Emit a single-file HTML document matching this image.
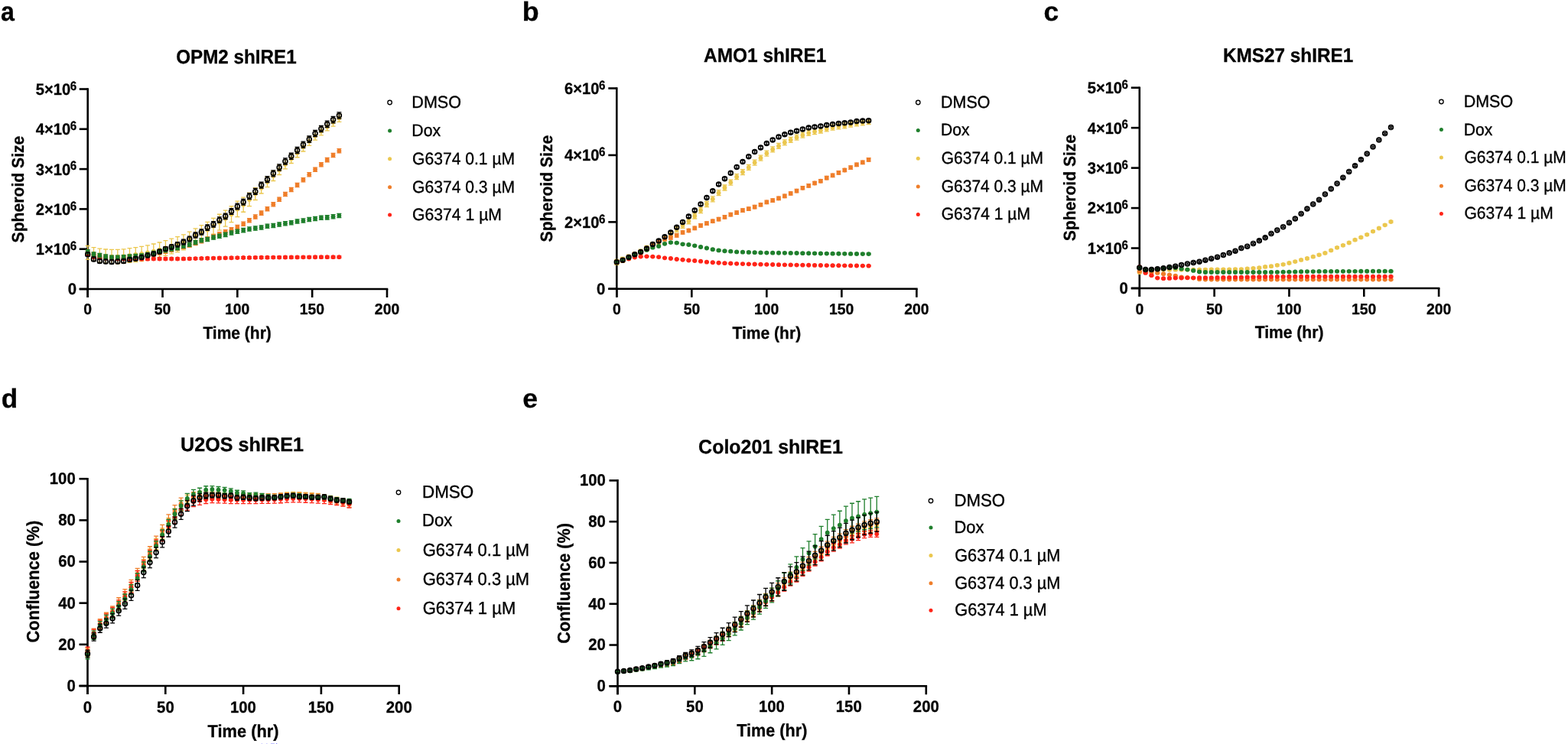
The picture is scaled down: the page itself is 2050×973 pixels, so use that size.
<!DOCTYPE html>
<html><head><meta charset="utf-8"><title>Figure</title>
<style>html,body{margin:0;padding:0;background:#fff;}body{width:2050px;height:973px;overflow:hidden;}svg{display:block;}text{font-family:"Liberation Sans", Arial, Helvetica, sans-serif;stroke:#000;stroke-width:0.3px;text-rendering:geometricPrecision;}text.r{stroke-width:0.35px;}</style>
</head><body>
<svg width="2050" height="973" viewBox="0 0 2050 973">
<rect width="2050" height="973" fill="#fff"/>
<text transform="translate(0.94,27.3) scale(0.9175,1)" font-size="35" font-weight="700" fill="#000">a</text>
<text transform="translate(682.67,27.3) scale(1.0240,1)" font-size="35" font-weight="700" fill="#000">b</text>
<text transform="translate(1364.58,26.7) scale(1.0139,1)" font-size="35" font-weight="700" fill="#000">c</text>
<text transform="translate(1.8,533.2) scale(1.0014,1)" font-size="35" font-weight="700" fill="#000">d</text>
<text transform="translate(683.27,533.3) scale(1.0185,1)" font-size="35" font-weight="700" fill="#000">e</text>
<text transform="translate(230.13,82.75) scale(0.9430,1)" font-size="25.7" font-weight="700" fill="#000">OPM2 shIRE1</text>
<text transform="translate(919.99,81.4) scale(0.9526,1)" font-size="25.7" font-weight="700" fill="#000">AMO1 shIRE1</text>
<text transform="translate(1598.96,80.8) scale(0.9469,1)" font-size="25.7" font-weight="700" fill="#000">KMS27 shIRE1</text>
<text transform="translate(236.09,590.45) scale(0.9798,1)" font-size="25.7" font-weight="700" fill="#000">U2OS shIRE1</text>
<text transform="translate(913.1,593.4) scale(0.9720,1)" font-size="25.7" font-weight="700" fill="#000">Colo201 shIRE1</text>
<text transform="translate(265.44,443.1) scale(0.9246,1)" font-size="22.7" font-weight="700" fill="#000">Time (hr)</text>
<text transform="translate(957.54,443.2) scale(0.9349,1)" font-size="22.5" font-weight="700" fill="#000">Time (hr)</text>
<text transform="translate(1640.64,442.2) scale(0.9371,1)" font-size="22.5" font-weight="700" fill="#000">Time (hr)</text>
<text transform="translate(271.53,964.1) scale(0.9498,1)" font-size="23" font-weight="700" fill="#000">Time (hr)</text>
<text transform="translate(963.23,963.1) scale(0.9364,1)" font-size="23.1" font-weight="700" fill="#000">Time (hr)</text>
<text transform="translate(31.2,317.43) rotate(-90) scale(0.9611,1)" font-size="22" font-weight="700">Spheroid Size</text>
<text transform="translate(721.8,316.43) rotate(-90) scale(0.9604,1)" font-size="22" font-weight="700">Spheroid Size</text>
<text transform="translate(1406.3,315.23) rotate(-90) scale(0.9577,1)" font-size="22" font-weight="700">Spheroid Size</text>
<text transform="translate(50.8,840.48) rotate(-90) scale(0.9540,1)" font-size="23" font-weight="700">Confluence (%)</text>
<text transform="translate(745.3,841.77) rotate(-90) scale(0.9431,1)" font-size="23" font-weight="700">Confluence (%)</text>
<line x1="114.7" y1="115.2" x2="114.7" y2="389" stroke="#000" stroke-width="2.6" stroke-linecap="butt"/>
<line x1="103.7" y1="378" x2="507.3" y2="378" stroke="#000" stroke-width="2.6" stroke-linecap="butt"/>
<line x1="103.7" y1="378" x2="114.7" y2="378" stroke="#000" stroke-width="2.6" stroke-linecap="butt"/>
<line x1="103.7" y1="325.7" x2="114.7" y2="325.7" stroke="#000" stroke-width="2.6" stroke-linecap="butt"/>
<line x1="103.7" y1="273.4" x2="114.7" y2="273.4" stroke="#000" stroke-width="2.6" stroke-linecap="butt"/>
<line x1="103.7" y1="221.1" x2="114.7" y2="221.1" stroke="#000" stroke-width="2.6" stroke-linecap="butt"/>
<line x1="103.7" y1="168.8" x2="114.7" y2="168.8" stroke="#000" stroke-width="2.6" stroke-linecap="butt"/>
<line x1="103.7" y1="116.5" x2="114.7" y2="116.5" stroke="#000" stroke-width="2.6" stroke-linecap="butt"/>
<line x1="114.7" y1="378" x2="114.7" y2="389" stroke="#000" stroke-width="2.6" stroke-linecap="butt"/>
<text transform="translate(109.32,411.3) scale(0.9700,1)" font-size="20" font-weight="700">0</text>
<line x1="212.53" y1="378" x2="212.53" y2="389" stroke="#000" stroke-width="2.6" stroke-linecap="butt"/>
<text transform="translate(201.83,411.3) scale(0.9700,1)" font-size="20" font-weight="700">50</text>
<line x1="310.35" y1="378" x2="310.35" y2="389" stroke="#000" stroke-width="2.6" stroke-linecap="butt"/>
<text transform="translate(293.96,411.3) scale(0.9700,1)" font-size="20" font-weight="700">100</text>
<line x1="408.18" y1="378" x2="408.18" y2="389" stroke="#000" stroke-width="2.6" stroke-linecap="butt"/>
<text transform="translate(391.78,411.3) scale(0.9700,1)" font-size="20" font-weight="700">150</text>
<line x1="506" y1="378" x2="506" y2="389" stroke="#000" stroke-width="2.6" stroke-linecap="butt"/>
<text transform="translate(489.87,411.3) scale(0.9700,1)" font-size="20" font-weight="700">200</text>
<text transform="translate(91.71,327) scale(0.9200,1)" font-size="16.5" font-weight="700">6</text>
<text transform="translate(46.87,333.1) scale(0.9600,1)" font-size="21" font-weight="700">1×10</text>
<text transform="translate(91.71,274.7) scale(0.9200,1)" font-size="16.5" font-weight="700">6</text>
<text transform="translate(46.87,280.8) scale(0.9600,1)" font-size="21" font-weight="700">2×10</text>
<text transform="translate(91.71,222.4) scale(0.9200,1)" font-size="16.5" font-weight="700">6</text>
<text transform="translate(46.87,228.5) scale(0.9600,1)" font-size="21" font-weight="700">3×10</text>
<text transform="translate(91.71,170.1) scale(0.9200,1)" font-size="16.5" font-weight="700">6</text>
<text transform="translate(46.87,176.2) scale(0.9600,1)" font-size="21" font-weight="700">4×10</text>
<text transform="translate(91.71,117.8) scale(0.9200,1)" font-size="16.5" font-weight="700">6</text>
<text transform="translate(46.87,123.9) scale(0.9600,1)" font-size="21" font-weight="700">5×10</text>
<text transform="translate(88.81,385.2) scale(0.9700,1)" font-size="21" font-weight="700">0</text>
<line x1="806.3" y1="114.2" x2="806.3" y2="388.8" stroke="#000" stroke-width="2.6" stroke-linecap="butt"/>
<line x1="795.3" y1="377.8" x2="1199.7" y2="377.8" stroke="#000" stroke-width="2.6" stroke-linecap="butt"/>
<line x1="795.3" y1="377.8" x2="806.3" y2="377.8" stroke="#000" stroke-width="2.6" stroke-linecap="butt"/>
<line x1="795.3" y1="290.37" x2="806.3" y2="290.37" stroke="#000" stroke-width="2.6" stroke-linecap="butt"/>
<line x1="795.3" y1="202.93" x2="806.3" y2="202.93" stroke="#000" stroke-width="2.6" stroke-linecap="butt"/>
<line x1="795.3" y1="115.5" x2="806.3" y2="115.5" stroke="#000" stroke-width="2.6" stroke-linecap="butt"/>
<line x1="806.3" y1="377.8" x2="806.3" y2="388.8" stroke="#000" stroke-width="2.6" stroke-linecap="butt"/>
<text transform="translate(800.92,411.3) scale(0.9700,1)" font-size="20" font-weight="700">0</text>
<line x1="904.33" y1="377.8" x2="904.33" y2="388.8" stroke="#000" stroke-width="2.6" stroke-linecap="butt"/>
<text transform="translate(893.63,411.3) scale(0.9700,1)" font-size="20" font-weight="700">50</text>
<line x1="1002.35" y1="377.8" x2="1002.35" y2="388.8" stroke="#000" stroke-width="2.6" stroke-linecap="butt"/>
<text transform="translate(985.96,411.3) scale(0.9700,1)" font-size="20" font-weight="700">100</text>
<line x1="1100.38" y1="377.8" x2="1100.38" y2="388.8" stroke="#000" stroke-width="2.6" stroke-linecap="butt"/>
<text transform="translate(1083.98,411.3) scale(0.9700,1)" font-size="20" font-weight="700">150</text>
<line x1="1198.4" y1="377.8" x2="1198.4" y2="388.8" stroke="#000" stroke-width="2.6" stroke-linecap="butt"/>
<text transform="translate(1182.27,411.3) scale(0.9700,1)" font-size="20" font-weight="700">200</text>
<text transform="translate(782.91,291.67) scale(0.9200,1)" font-size="16.5" font-weight="700">6</text>
<text transform="translate(738.07,297.77) scale(0.9600,1)" font-size="21" font-weight="700">2×10</text>
<text transform="translate(782.91,204.23) scale(0.9200,1)" font-size="16.5" font-weight="700">6</text>
<text transform="translate(738.07,210.33) scale(0.9600,1)" font-size="21" font-weight="700">4×10</text>
<text transform="translate(782.91,116.8) scale(0.9200,1)" font-size="16.5" font-weight="700">6</text>
<text transform="translate(738.07,122.9) scale(0.9600,1)" font-size="21" font-weight="700">6×10</text>
<text transform="translate(780.01,385) scale(0.9700,1)" font-size="21" font-weight="700">0</text>
<line x1="1489.8" y1="113.4" x2="1489.8" y2="388" stroke="#000" stroke-width="2.6" stroke-linecap="butt"/>
<line x1="1478.8" y1="377" x2="1882.4" y2="377" stroke="#000" stroke-width="2.6" stroke-linecap="butt"/>
<line x1="1478.8" y1="377" x2="1489.8" y2="377" stroke="#000" stroke-width="2.6" stroke-linecap="butt"/>
<line x1="1478.8" y1="324.54" x2="1489.8" y2="324.54" stroke="#000" stroke-width="2.6" stroke-linecap="butt"/>
<line x1="1478.8" y1="272.08" x2="1489.8" y2="272.08" stroke="#000" stroke-width="2.6" stroke-linecap="butt"/>
<line x1="1478.8" y1="219.62" x2="1489.8" y2="219.62" stroke="#000" stroke-width="2.6" stroke-linecap="butt"/>
<line x1="1478.8" y1="167.16" x2="1489.8" y2="167.16" stroke="#000" stroke-width="2.6" stroke-linecap="butt"/>
<line x1="1478.8" y1="114.7" x2="1489.8" y2="114.7" stroke="#000" stroke-width="2.6" stroke-linecap="butt"/>
<line x1="1489.8" y1="377" x2="1489.8" y2="388" stroke="#000" stroke-width="2.6" stroke-linecap="butt"/>
<text transform="translate(1484.42,410.7) scale(0.9700,1)" font-size="20" font-weight="700">0</text>
<line x1="1587.62" y1="377" x2="1587.62" y2="388" stroke="#000" stroke-width="2.6" stroke-linecap="butt"/>
<text transform="translate(1576.93,410.7) scale(0.9700,1)" font-size="20" font-weight="700">50</text>
<line x1="1685.45" y1="377" x2="1685.45" y2="388" stroke="#000" stroke-width="2.6" stroke-linecap="butt"/>
<text transform="translate(1669.06,410.7) scale(0.9700,1)" font-size="20" font-weight="700">100</text>
<line x1="1783.27" y1="377" x2="1783.27" y2="388" stroke="#000" stroke-width="2.6" stroke-linecap="butt"/>
<text transform="translate(1766.88,410.7) scale(0.9700,1)" font-size="20" font-weight="700">150</text>
<line x1="1881.1" y1="377" x2="1881.1" y2="388" stroke="#000" stroke-width="2.6" stroke-linecap="butt"/>
<text transform="translate(1864.97,410.7) scale(0.9700,1)" font-size="20" font-weight="700">200</text>
<text transform="translate(1466.51,325.84) scale(0.9200,1)" font-size="16.5" font-weight="700">6</text>
<text transform="translate(1421.67,331.94) scale(0.9600,1)" font-size="21" font-weight="700">1×10</text>
<text transform="translate(1466.51,273.38) scale(0.9200,1)" font-size="16.5" font-weight="700">6</text>
<text transform="translate(1421.67,279.48) scale(0.9600,1)" font-size="21" font-weight="700">2×10</text>
<text transform="translate(1466.51,220.92) scale(0.9200,1)" font-size="16.5" font-weight="700">6</text>
<text transform="translate(1421.67,227.02) scale(0.9600,1)" font-size="21" font-weight="700">3×10</text>
<text transform="translate(1466.51,168.46) scale(0.9200,1)" font-size="16.5" font-weight="700">6</text>
<text transform="translate(1421.67,174.56) scale(0.9600,1)" font-size="21" font-weight="700">4×10</text>
<text transform="translate(1466.51,116) scale(0.9200,1)" font-size="16.5" font-weight="700">6</text>
<text transform="translate(1421.67,122.1) scale(0.9600,1)" font-size="21" font-weight="700">5×10</text>
<text transform="translate(1463.61,384.2) scale(0.9700,1)" font-size="21" font-weight="700">0</text>
<line x1="114.5" y1="624.9" x2="114.5" y2="908" stroke="#000" stroke-width="2.6" stroke-linecap="butt"/>
<line x1="103.5" y1="897" x2="523" y2="897" stroke="#000" stroke-width="2.6" stroke-linecap="butt"/>
<line x1="103.5" y1="897" x2="114.5" y2="897" stroke="#000" stroke-width="2.6" stroke-linecap="butt"/>
<line x1="103.5" y1="842.84" x2="114.5" y2="842.84" stroke="#000" stroke-width="2.6" stroke-linecap="butt"/>
<line x1="103.5" y1="788.68" x2="114.5" y2="788.68" stroke="#000" stroke-width="2.6" stroke-linecap="butt"/>
<line x1="103.5" y1="734.52" x2="114.5" y2="734.52" stroke="#000" stroke-width="2.6" stroke-linecap="butt"/>
<line x1="103.5" y1="680.36" x2="114.5" y2="680.36" stroke="#000" stroke-width="2.6" stroke-linecap="butt"/>
<line x1="103.5" y1="626.2" x2="114.5" y2="626.2" stroke="#000" stroke-width="2.6" stroke-linecap="butt"/>
<line x1="114.5" y1="897" x2="114.5" y2="908" stroke="#000" stroke-width="2.6" stroke-linecap="butt"/>
<text transform="translate(108.85,931.5) scale(0.9700,1)" font-size="21" font-weight="700">0</text>
<line x1="216.3" y1="897" x2="216.3" y2="908" stroke="#000" stroke-width="2.6" stroke-linecap="butt"/>
<text transform="translate(205.07,931.5) scale(0.9700,1)" font-size="21" font-weight="700">50</text>
<line x1="318.1" y1="897" x2="318.1" y2="908" stroke="#000" stroke-width="2.6" stroke-linecap="butt"/>
<text transform="translate(300.89,931.5) scale(0.9700,1)" font-size="21" font-weight="700">100</text>
<line x1="419.9" y1="897" x2="419.9" y2="908" stroke="#000" stroke-width="2.6" stroke-linecap="butt"/>
<text transform="translate(402.69,931.5) scale(0.9700,1)" font-size="21" font-weight="700">150</text>
<line x1="521.7" y1="897" x2="521.7" y2="908" stroke="#000" stroke-width="2.6" stroke-linecap="butt"/>
<text transform="translate(504.77,931.5) scale(0.9700,1)" font-size="21" font-weight="700">200</text>
<text transform="translate(87.43,903.9) scale(0.9500,1)" font-size="21.4" font-weight="700">0</text>
<text transform="translate(76.15,849.74) scale(0.9500,1)" font-size="21.4" font-weight="700">20</text>
<text transform="translate(76.15,795.58) scale(0.9500,1)" font-size="21.4" font-weight="700">40</text>
<text transform="translate(76.15,741.42) scale(0.9500,1)" font-size="21.4" font-weight="700">60</text>
<text transform="translate(76.15,687.26) scale(0.9500,1)" font-size="21.4" font-weight="700">80</text>
<text transform="translate(64.81,633.1) scale(0.9500,1)" font-size="21.4" font-weight="700">100</text>
<line x1="807.5" y1="627.1" x2="807.5" y2="908.3" stroke="#000" stroke-width="2.6" stroke-linecap="butt"/>
<line x1="796.5" y1="897.3" x2="1212.1" y2="897.3" stroke="#000" stroke-width="2.6" stroke-linecap="butt"/>
<line x1="796.5" y1="897.3" x2="807.5" y2="897.3" stroke="#000" stroke-width="2.6" stroke-linecap="butt"/>
<line x1="796.5" y1="843.52" x2="807.5" y2="843.52" stroke="#000" stroke-width="2.6" stroke-linecap="butt"/>
<line x1="796.5" y1="789.74" x2="807.5" y2="789.74" stroke="#000" stroke-width="2.6" stroke-linecap="butt"/>
<line x1="796.5" y1="735.96" x2="807.5" y2="735.96" stroke="#000" stroke-width="2.6" stroke-linecap="butt"/>
<line x1="796.5" y1="682.18" x2="807.5" y2="682.18" stroke="#000" stroke-width="2.6" stroke-linecap="butt"/>
<line x1="796.5" y1="628.4" x2="807.5" y2="628.4" stroke="#000" stroke-width="2.6" stroke-linecap="butt"/>
<line x1="807.5" y1="897.3" x2="807.5" y2="908.3" stroke="#000" stroke-width="2.6" stroke-linecap="butt"/>
<text transform="translate(801.85,931.3) scale(0.9700,1)" font-size="21" font-weight="700">0</text>
<line x1="908.33" y1="897.3" x2="908.33" y2="908.3" stroke="#000" stroke-width="2.6" stroke-linecap="butt"/>
<text transform="translate(897.1,931.3) scale(0.9700,1)" font-size="21" font-weight="700">50</text>
<line x1="1009.15" y1="897.3" x2="1009.15" y2="908.3" stroke="#000" stroke-width="2.6" stroke-linecap="butt"/>
<text transform="translate(991.94,931.3) scale(0.9700,1)" font-size="21" font-weight="700">100</text>
<line x1="1109.97" y1="897.3" x2="1109.97" y2="908.3" stroke="#000" stroke-width="2.6" stroke-linecap="butt"/>
<text transform="translate(1092.76,931.3) scale(0.9700,1)" font-size="21" font-weight="700">150</text>
<line x1="1210.8" y1="897.3" x2="1210.8" y2="908.3" stroke="#000" stroke-width="2.6" stroke-linecap="butt"/>
<text transform="translate(1193.87,931.3) scale(0.9700,1)" font-size="21" font-weight="700">200</text>
<text transform="translate(780.53,904.2) scale(0.9500,1)" font-size="21.4" font-weight="700">0</text>
<text transform="translate(769.25,850.42) scale(0.9500,1)" font-size="21.4" font-weight="700">20</text>
<text transform="translate(769.25,796.64) scale(0.9500,1)" font-size="21.4" font-weight="700">40</text>
<text transform="translate(769.25,742.86) scale(0.9500,1)" font-size="21.4" font-weight="700">60</text>
<text transform="translate(769.25,689.08) scale(0.9500,1)" font-size="21.4" font-weight="700">80</text>
<text transform="translate(757.91,635.3) scale(0.9500,1)" font-size="21.4" font-weight="700">100</text>
<circle cx="509.6" cy="134" r="2.75" fill="none" stroke="#000" stroke-width="1.3"/>
<text class="r" transform="translate(538.32,140.9) scale(0.9693,1)" font-size="22.25" font-weight="400">DMSO</text>
<circle cx="509.6" cy="171.1" r="2.5" fill="#1f7f2c"/>
<text class="r" transform="translate(538.34,178) scale(0.9563,1)" font-size="22.25" font-weight="400">Dox</text>
<circle cx="509.6" cy="207.8" r="2.5" fill="#ebc74e"/>
<text class="r" transform="translate(539.05,214.7) scale(0.9480,1)" font-size="22.25" font-weight="400">G6374 0.1 µM</text>
<circle cx="509.6" cy="244.7" r="2.5" fill="#ef7e2a"/>
<text class="r" transform="translate(539.05,251.6) scale(0.9480,1)" font-size="22.25" font-weight="400">G6374 0.3 µM</text>
<circle cx="509.6" cy="281" r="2.5" fill="#ff2418"/>
<text class="r" transform="translate(539.04,287.9) scale(0.9514,1)" font-size="22.25" font-weight="400">G6374 1 µM</text>
<circle cx="1200.3" cy="134" r="2.75" fill="none" stroke="#000" stroke-width="1.3"/>
<text class="r" transform="translate(1230.03,140.9) scale(0.9693,1)" font-size="22.14" font-weight="400">DMSO</text>
<circle cx="1200.3" cy="170.5" r="2.5" fill="#1f7f2c"/>
<text class="r" transform="translate(1230.05,177.4) scale(0.9563,1)" font-size="22.14" font-weight="400">Dox</text>
<circle cx="1200.3" cy="207.2" r="2.5" fill="#ebc74e"/>
<text class="r" transform="translate(1230.75,214.1) scale(0.9480,1)" font-size="22.14" font-weight="400">G6374 0.1 µM</text>
<circle cx="1200.3" cy="243.9" r="2.5" fill="#ef7e2a"/>
<text class="r" transform="translate(1230.75,250.8) scale(0.9480,1)" font-size="22.14" font-weight="400">G6374 0.3 µM</text>
<circle cx="1200.3" cy="280.4" r="2.5" fill="#ff2418"/>
<text class="r" transform="translate(1230.75,287.3) scale(0.9514,1)" font-size="22.14" font-weight="400">G6374 1 µM</text>
<circle cx="1884.4" cy="133" r="2.75" fill="none" stroke="#000" stroke-width="1.3"/>
<text class="r" transform="translate(1913.73,139.9) scale(0.9693,1)" font-size="22.14" font-weight="400">DMSO</text>
<circle cx="1884.4" cy="169.6" r="2.5" fill="#1f7f2c"/>
<text class="r" transform="translate(1913.75,176.5) scale(0.9563,1)" font-size="22.14" font-weight="400">Dox</text>
<circle cx="1884.4" cy="206.1" r="2.5" fill="#ebc74e"/>
<text class="r" transform="translate(1914.45,213) scale(0.9480,1)" font-size="22.14" font-weight="400">G6374 0.1 µM</text>
<circle cx="1884.4" cy="243.2" r="2.5" fill="#ef7e2a"/>
<text class="r" transform="translate(1914.45,250.1) scale(0.9480,1)" font-size="22.14" font-weight="400">G6374 0.3 µM</text>
<circle cx="1884.4" cy="279.5" r="2.5" fill="#ff2418"/>
<text class="r" transform="translate(1914.45,286.4) scale(0.9514,1)" font-size="22.14" font-weight="400">G6374 1 µM</text>
<circle cx="521" cy="644" r="2.75" fill="none" stroke="#000" stroke-width="1.3"/>
<text class="r" transform="translate(551.95,650.9) scale(0.9693,1)" font-size="23.14" font-weight="400">DMSO</text>
<circle cx="521" cy="681.5" r="2.5" fill="#1f7f2c"/>
<text class="r" transform="translate(551.97,688.4) scale(0.9563,1)" font-size="23.14" font-weight="400">Dox</text>
<circle cx="521" cy="719.6" r="2.5" fill="#ebc74e"/>
<text class="r" transform="translate(552.7,726.5) scale(0.9480,1)" font-size="23.14" font-weight="400">G6374 0.1 µM</text>
<circle cx="521" cy="757.9" r="2.5" fill="#ef7e2a"/>
<text class="r" transform="translate(552.7,764.8) scale(0.9480,1)" font-size="23.14" font-weight="400">G6374 0.3 µM</text>
<circle cx="521" cy="795.8" r="2.5" fill="#ff2418"/>
<text class="r" transform="translate(552.7,802.7) scale(0.9514,1)" font-size="23.14" font-weight="400">G6374 1 µM</text>
<circle cx="1217" cy="655" r="2.75" fill="none" stroke="#000" stroke-width="1.3"/>
<text class="r" transform="translate(1247.47,661.9) scale(0.9693,1)" font-size="22.92" font-weight="400">DMSO</text>
<circle cx="1217" cy="690.1" r="2.5" fill="#1f7f2c"/>
<text class="r" transform="translate(1247.49,697) scale(0.9563,1)" font-size="22.92" font-weight="400">Dox</text>
<circle cx="1217" cy="726.6" r="2.5" fill="#ebc74e"/>
<text class="r" transform="translate(1248.21,733.5) scale(0.9480,1)" font-size="22.92" font-weight="400">G6374 0.1 µM</text>
<circle cx="1217" cy="762.7" r="2.5" fill="#ef7e2a"/>
<text class="r" transform="translate(1248.21,769.6) scale(0.9480,1)" font-size="22.92" font-weight="400">G6374 0.3 µM</text>
<circle cx="1217" cy="798.3" r="2.5" fill="#ff2418"/>
<text class="r" transform="translate(1248.21,805.2) scale(0.9514,1)" font-size="22.92" font-weight="400">G6374 1 µM</text>
<path d="M114.7 321.52V339.3M111.7 321.52h6M111.7 339.3h6M122.53 323.53V341.47M119.53 323.53h6M119.53 341.47h6M130.35 325.03V343.11M127.35 325.03h6M127.35 343.11h6M138.18 326V344.23M135.18 326h6M135.18 344.23h6M146 326.45V344.83M143 326.45h6M143 344.83h6M153.83 326.37V344.9M150.83 326.37h6M150.83 344.9h6M161.66 325.78V344.45M158.66 325.78h6M158.66 344.45h6M169.48 324.66V343.47M166.48 324.66h6M166.48 343.47h6M177.31 323.55V342.5M174.31 323.55h6M174.31 342.5h6M185.13 322.43V341.52M182.13 322.43h6M182.13 341.52h6M192.96 320.8V340.02M189.96 320.8h6M189.96 340.02h6M200.79 318.99V338.35M197.79 318.99h6M197.79 338.35h6M208.61 317V336.49M205.61 317h6M205.61 336.49h6M216.44 314.69V334.31M213.44 314.69h6M213.44 334.31h6M224.26 312.17V331.91M221.26 312.17h6M221.26 331.91h6M232.09 309.65V329.53M229.09 309.65h6M229.09 329.53h6M239.92 306.8V326.81M236.92 306.8h6M236.92 326.81h6M247.74 303.04V323.19M244.74 303.04h6M244.74 323.19h6M255.57 298.81V319.12M252.57 298.81h6M252.57 319.12h6M263.39 294.67V315.14M260.39 294.67h6M260.39 315.14h6M271.22 290.29V310.9M268.22 290.29h6M268.22 310.9h6M279.05 285.4V306.13M276.05 285.4h6M276.05 306.13h6M286.87 280.24V301.07M283.87 280.24h6M283.87 301.07h6M294.7 275.21V296.1M291.7 275.21h6M291.7 296.1h6M302.52 269.74V290.66M299.52 269.74h6M299.52 290.66h6M310.35 263.18V283.62M307.35 263.18h6M307.35 283.62h6M318.18 258.03V277.26M315.18 258.03h6M315.18 277.26h6M326 252.07V269.68M323 252.07h6M323 269.68h6M333.83 245.57V261.48M330.83 245.57h6M330.83 261.48h6M341.65 238.55V253.02M338.65 238.55h6M338.65 253.02h6M349.48 231.04V244.63M346.48 231.04h6M346.48 244.63h6M357.31 223.35V236.5M354.31 223.35h6M354.31 236.5h6M365.13 215.79V228.51M362.13 215.79h6M362.13 228.51h6M372.96 208.63V220.96M369.96 208.63h6M369.96 220.96h6M380.78 201.52V213.48M377.78 201.52h6M377.78 213.48h6M388.61 194.1V205.73M385.61 194.1h6M385.61 205.73h6M396.44 186.67V198M393.44 186.67h6M393.44 198h6M404.26 179.26V190.34M401.26 179.26h6M401.26 190.34h6M412.09 172.26V183.12M409.09 172.26h6M409.09 183.12h6M419.91 166.15V176.84M416.91 166.15h6M416.91 176.84h6M427.74 160.38V170.94M424.74 160.38h6M424.74 170.94h6M435.57 154.6V165.09M432.57 154.6h6M432.57 165.09h6M443.39 148.93V159.39M440.39 148.93h6M440.39 159.39h6" stroke="#ebc74e" stroke-width="1.3" fill="none"/>
<g fill="#ebc74e"><circle cx="114.7" cy="330.41" r="2.9"/><circle cx="122.53" cy="332.5" r="2.9"/><circle cx="130.35" cy="334.07" r="2.9"/><circle cx="138.18" cy="335.11" r="2.9"/><circle cx="146" cy="335.64" r="2.9"/><circle cx="153.83" cy="335.64" r="2.9"/><circle cx="161.66" cy="335.11" r="2.9"/><circle cx="169.48" cy="334.07" r="2.9"/><circle cx="177.31" cy="333.02" r="2.9"/><circle cx="185.13" cy="331.98" r="2.9"/><circle cx="192.96" cy="330.41" r="2.9"/><circle cx="200.79" cy="328.67" r="2.9"/><circle cx="208.61" cy="326.75" r="2.9"/><circle cx="216.44" cy="324.5" r="2.9"/><circle cx="224.26" cy="322.04" r="2.9"/><circle cx="232.09" cy="319.59" r="2.9"/><circle cx="239.92" cy="316.81" r="2.9"/><circle cx="247.74" cy="313.11" r="2.9"/><circle cx="255.57" cy="308.96" r="2.9"/><circle cx="263.39" cy="304.9" r="2.9"/><circle cx="271.22" cy="300.6" r="2.9"/><circle cx="279.05" cy="295.77" r="2.9"/><circle cx="286.87" cy="290.66" r="2.9"/><circle cx="294.7" cy="285.65" r="2.9"/><circle cx="302.52" cy="280.2" r="2.9"/><circle cx="310.35" cy="273.4" r="2.9"/><circle cx="318.18" cy="267.65" r="2.9"/><circle cx="326" cy="260.88" r="2.9"/><circle cx="333.83" cy="253.53" r="2.9"/><circle cx="341.65" cy="245.78" r="2.9"/><circle cx="349.48" cy="237.84" r="2.9"/><circle cx="357.31" cy="229.92" r="2.9"/><circle cx="365.13" cy="222.15" r="2.9"/><circle cx="372.96" cy="214.79" r="2.9"/><circle cx="380.78" cy="207.5" r="2.9"/><circle cx="388.61" cy="199.92" r="2.9"/><circle cx="396.44" cy="192.34" r="2.9"/><circle cx="404.26" cy="184.8" r="2.9"/><circle cx="412.09" cy="177.69" r="2.9"/><circle cx="419.91" cy="171.5" r="2.9"/><circle cx="427.74" cy="165.66" r="2.9"/><circle cx="435.57" cy="159.84" r="2.9"/><circle cx="443.39" cy="154.16" r="2.9"/></g>
<path d="M114.7 327.79V333.02M111.7 327.79h6M111.7 333.02h6M122.53 330.44V335.67M119.53 330.44h6M119.53 335.67h6M130.35 332.5V337.73M127.35 332.5h6M127.35 337.73h6M138.18 334.23V339.46M135.18 334.23h6M135.18 339.46h6M146 335.11V340.34M143 335.11h6M143 340.34h6M153.83 334.94V340.17M150.83 334.94h6M150.83 340.17h6M161.66 334.59V339.82M158.66 334.59h6M158.66 339.82h6M169.48 334.16V339.39M166.48 334.16h6M166.48 339.39h6M177.31 333.55V338.77M174.31 333.55h6M174.31 338.77h6M185.13 332.66V337.89M182.13 332.66h6M182.13 337.89h6M192.96 331.45V336.68M189.96 331.45h6M189.96 336.68h6M200.79 329.75V334.98M197.79 329.75h6M197.79 334.98h6M208.61 327.79V333.02M205.61 327.79h6M205.61 333.02h6M216.44 326V331.23M213.44 326h6M213.44 331.23h6M224.26 324.13V329.36M221.26 324.13h6M221.26 329.36h6M232.09 322.04V327.27M229.09 322.04h6M229.09 327.27h6M239.92 320.01V325.24M236.92 320.01h6M236.92 325.24h6M247.74 317.86V323.08M244.74 317.86h6M244.74 323.08h6M255.57 315.34V320.57M252.57 315.34h6M252.57 320.57h6M263.39 312.62V317.86M260.39 312.62h6M260.39 317.86h6M271.22 309.81V315.04M268.22 309.81h6M268.22 315.04h6M279.05 306.87V312.1M276.05 306.87h6M276.05 312.1h6M286.87 303.76V308.99M283.87 303.76h6M283.87 308.99h6M294.7 300.6V305.83M291.7 300.6h6M291.7 305.83h6M302.52 297.61V302.84M299.52 297.61h6M299.52 302.84h6M310.35 294.37V299.6M307.35 294.37h6M307.35 299.6h6M318.18 290.21V295.44M315.18 290.21h6M315.18 295.44h6M326 285.59V290.82M323 285.59h6M323 290.82h6M333.83 280.96V286.19M330.83 280.96h6M330.83 286.19h6M341.65 276.01V281.25M338.65 276.01h6M338.65 281.25h6M349.48 270.54V275.77M346.48 270.54h6M346.48 275.77h6M357.31 264.61V269.84M354.31 264.61h6M354.31 269.84h6M365.13 258.1V263.33M362.13 258.1h6M362.13 263.33h6M372.96 251.49V256.72M369.96 251.49h6M369.96 256.72h6M380.78 245.48V250.71M377.78 245.48h6M377.78 250.71h6M388.61 239.41V244.63M385.61 239.41h6M385.61 244.63h6M396.44 232.61V237.84M393.44 232.61h6M393.44 237.84h6M404.26 225.7V230.93M401.26 225.7h6M401.26 230.93h6M412.09 219.13V224.36M409.09 219.13h6M409.09 224.36h6M419.91 212.73V217.96M416.91 212.73h6M416.91 217.96h6M427.74 206.52V211.75M424.74 206.52h6M424.74 211.75h6M435.57 200.49V205.72M432.57 200.49h6M432.57 205.72h6M443.39 194.69V199.92M440.39 194.69h6M440.39 199.92h6" stroke="#ef7e2a" stroke-width="1.3" fill="none"/>
<g fill="#ef7e2a"><circle cx="114.7" cy="330.41" r="2.9"/><circle cx="122.53" cy="333.06" r="2.9"/><circle cx="130.35" cy="335.11" r="2.9"/><circle cx="138.18" cy="336.84" r="2.9"/><circle cx="146" cy="337.73" r="2.9"/><circle cx="153.83" cy="337.55" r="2.9"/><circle cx="161.66" cy="337.21" r="2.9"/><circle cx="169.48" cy="336.77" r="2.9"/><circle cx="177.31" cy="336.16" r="2.9"/><circle cx="185.13" cy="335.27" r="2.9"/><circle cx="192.96" cy="334.07" r="2.9"/><circle cx="200.79" cy="332.36" r="2.9"/><circle cx="208.61" cy="330.41" r="2.9"/><circle cx="216.44" cy="328.61" r="2.9"/><circle cx="224.26" cy="326.75" r="2.9"/><circle cx="232.09" cy="324.65" r="2.9"/><circle cx="239.92" cy="322.62" r="2.9"/><circle cx="247.74" cy="320.47" r="2.9"/><circle cx="255.57" cy="317.96" r="2.9"/><circle cx="263.39" cy="315.24" r="2.9"/><circle cx="271.22" cy="312.43" r="2.9"/><circle cx="279.05" cy="309.49" r="2.9"/><circle cx="286.87" cy="306.38" r="2.9"/><circle cx="294.7" cy="303.21" r="2.9"/><circle cx="302.52" cy="300.23" r="2.9"/><circle cx="310.35" cy="296.99" r="2.9"/><circle cx="318.18" cy="292.83" r="2.9"/><circle cx="326" cy="288.2" r="2.9"/><circle cx="333.83" cy="283.57" r="2.9"/><circle cx="341.65" cy="278.63" r="2.9"/><circle cx="349.48" cy="273.15" r="2.9"/><circle cx="357.31" cy="267.23" r="2.9"/><circle cx="365.13" cy="260.71" r="2.9"/><circle cx="372.96" cy="254.1" r="2.9"/><circle cx="380.78" cy="248.09" r="2.9"/><circle cx="388.61" cy="242.02" r="2.9"/><circle cx="396.44" cy="235.23" r="2.9"/><circle cx="404.26" cy="228.32" r="2.9"/><circle cx="412.09" cy="221.74" r="2.9"/><circle cx="419.91" cy="215.35" r="2.9"/><circle cx="427.74" cy="209.14" r="2.9"/><circle cx="435.57" cy="203.11" r="2.9"/><circle cx="443.39" cy="197.3" r="2.9"/></g>
<path d="M114.7 331.71V334.33M111.7 331.71h6M111.7 334.33h6M122.53 334.85V337.47M119.53 334.85h6M119.53 337.47h6M130.35 335.9V338.51M127.35 335.9h6M127.35 338.51h6M138.18 336.42V339.04M135.18 336.42h6M135.18 339.04h6M146 336.94V339.56M143 336.94h6M143 339.56h6M153.83 337.1V339.72M150.83 337.1h6M150.83 339.72h6M161.66 337.21V339.82M158.66 337.21h6M158.66 339.82h6M169.48 337.32V339.94M166.48 337.32h6M166.48 339.94h6M177.31 337.42V340.04M174.31 337.42h6M174.31 340.04h6M185.13 337.47V340.08M182.13 337.47h6M182.13 340.08h6M192.96 337.4V340.01M189.96 337.4h6M189.96 340.01h6M200.79 337.27V339.89M197.79 337.27h6M197.79 339.89h6M208.61 337.21V339.82M205.61 337.21h6M205.61 339.82h6M216.44 337.21V339.82M213.44 337.21h6M213.44 339.82h6M224.26 337.21V339.82M221.26 337.21h6M221.26 339.82h6M232.09 337.21V339.82M229.09 337.21h6M229.09 339.82h6M239.92 337.14V339.76M236.92 337.14h6M236.92 339.76h6M247.74 336.99V339.61M244.74 336.99h6M244.74 339.61h6M255.57 336.79V339.41M252.57 336.79h6M252.57 339.41h6M263.39 336.59V339.2M260.39 336.59h6M260.39 339.2h6M271.22 336.42V339.04M268.22 336.42h6M268.22 339.04h6M279.05 336.29V338.91M276.05 336.29h6M276.05 338.91h6M286.87 336.17V338.78M283.87 336.17h6M283.87 338.78h6M294.7 336.05V338.66M291.7 336.05h6M291.7 338.66h6M302.52 335.93V338.54M299.52 335.93h6M299.52 338.54h6M310.35 335.82V338.43M307.35 335.82h6M307.35 338.43h6M318.18 335.71V338.33M315.18 335.71h6M315.18 338.33h6M326 335.61V338.23M323 335.61h6M323 338.23h6M333.83 335.52V338.14M330.83 335.52h6M330.83 338.14h6M341.65 335.44V338.06M338.65 335.44h6M338.65 338.06h6M349.48 335.38V337.99M346.48 335.38h6M346.48 337.99h6M357.31 335.31V337.93M354.31 335.31h6M354.31 337.93h6M365.13 335.25V337.87M362.13 335.25h6M362.13 337.87h6M372.96 335.19V337.81M369.96 335.19h6M369.96 337.81h6M380.78 335.14V337.75M377.78 335.14h6M377.78 337.75h6M388.61 335.09V337.7M385.61 335.09h6M385.61 337.7h6M396.44 335.04V337.65M393.44 335.04h6M393.44 337.65h6M404.26 334.99V337.61M401.26 334.99h6M401.26 337.61h6M412.09 334.95V337.57M409.09 334.95h6M409.09 337.57h6M419.91 334.92V337.53M416.91 334.92h6M416.91 337.53h6M427.74 334.89V337.5M424.74 334.89h6M424.74 337.5h6M435.57 334.87V337.48M432.57 334.87h6M432.57 337.48h6M443.39 334.85V337.47M440.39 334.85h6M440.39 337.47h6" stroke="#ff2418" stroke-width="1.3" fill="none"/>
<g fill="#ff2418"><circle cx="114.7" cy="333.02" r="2.9"/><circle cx="122.53" cy="336.16" r="2.9"/><circle cx="130.35" cy="337.21" r="2.9"/><circle cx="138.18" cy="337.73" r="2.9"/><circle cx="146" cy="338.25" r="2.9"/><circle cx="153.83" cy="338.41" r="2.9"/><circle cx="161.66" cy="338.51" r="2.9"/><circle cx="169.48" cy="338.63" r="2.9"/><circle cx="177.31" cy="338.73" r="2.9"/><circle cx="185.13" cy="338.77" r="2.9"/><circle cx="192.96" cy="338.71" r="2.9"/><circle cx="200.79" cy="338.58" r="2.9"/><circle cx="208.61" cy="338.51" r="2.9"/><circle cx="216.44" cy="338.51" r="2.9"/><circle cx="224.26" cy="338.51" r="2.9"/><circle cx="232.09" cy="338.51" r="2.9"/><circle cx="239.92" cy="338.45" r="2.9"/><circle cx="247.74" cy="338.3" r="2.9"/><circle cx="255.57" cy="338.1" r="2.9"/><circle cx="263.39" cy="337.89" r="2.9"/><circle cx="271.22" cy="337.73" r="2.9"/><circle cx="279.05" cy="337.6" r="2.9"/><circle cx="286.87" cy="337.48" r="2.9"/><circle cx="294.7" cy="337.35" r="2.9"/><circle cx="302.52" cy="337.24" r="2.9"/><circle cx="310.35" cy="337.12" r="2.9"/><circle cx="318.18" cy="337.02" r="2.9"/><circle cx="326" cy="336.92" r="2.9"/><circle cx="333.83" cy="336.83" r="2.9"/><circle cx="341.65" cy="336.75" r="2.9"/><circle cx="349.48" cy="336.68" r="2.9"/><circle cx="357.31" cy="336.62" r="2.9"/><circle cx="365.13" cy="336.56" r="2.9"/><circle cx="372.96" cy="336.5" r="2.9"/><circle cx="380.78" cy="336.45" r="2.9"/><circle cx="388.61" cy="336.39" r="2.9"/><circle cx="396.44" cy="336.34" r="2.9"/><circle cx="404.26" cy="336.3" r="2.9"/><circle cx="412.09" cy="336.26" r="2.9"/><circle cx="419.91" cy="336.22" r="2.9"/><circle cx="427.74" cy="336.2" r="2.9"/><circle cx="435.57" cy="336.17" r="2.9"/><circle cx="443.39" cy="336.16" r="2.9"/></g>
<path d="M114.7 326.75V331.98M111.7 326.75h6M111.7 331.98h6M122.53 329.88V335.11M119.53 329.88h6M119.53 335.11h6M130.35 331.45V336.68M127.35 331.45h6M127.35 336.68h6M138.18 333.02V338.25M135.18 333.02h6M135.18 338.25h6M146 334.07V339.3M143 334.07h6M143 339.3h6M153.83 334.07V339.3M150.83 334.07h6M150.83 339.3h6M161.66 333.55V338.77M158.66 333.55h6M158.66 338.77h6M169.48 333.02V338.25M166.48 333.02h6M166.48 338.25h6M177.31 332.5V337.73M174.31 332.5h6M174.31 337.73h6M185.13 331.98V337.21M182.13 331.98h6M182.13 337.21h6M192.96 330.41V335.64M189.96 330.41h6M189.96 335.64h6M200.79 328.31V333.55M197.79 328.31h6M197.79 333.55h6M208.61 326.38V331.61M205.61 326.38h6M205.61 331.61h6M216.44 324.6V329.83M213.44 324.6h6M213.44 329.83h6M224.26 322.77V328M221.26 322.77h6M221.26 328h6M232.09 321.52V326.75M229.09 321.52h6M229.09 326.75h6M239.92 319.06V324.29M236.92 319.06h6M236.92 324.29h6M247.74 317.18V322.41M244.74 317.18h6M244.74 322.41h6M255.57 314.4V319.63M252.57 314.4h6M252.57 319.63h6M263.39 311.68V316.91M260.39 311.68h6M260.39 316.91h6M271.22 310.38V315.61M268.22 310.38h6M268.22 315.61h6M279.05 307.92V313.15M276.05 307.92h6M276.05 313.15h6M286.87 306.09V311.32M283.87 306.09h6M283.87 311.32h6M294.7 304.26V309.49M291.7 304.26h6M291.7 309.49h6M302.52 301.8V307.03M299.52 301.8h6M299.52 307.03h6M310.35 300.07V305.3M307.35 300.07h6M307.35 305.3h6M318.18 298.5V303.73M315.18 298.5h6M315.18 303.73h6M326 296.94V302.17M323 296.94h6M323 302.17h6M333.83 295.89V301.12M330.83 295.89h6M330.83 301.12h6M341.65 294.9V300.13M338.65 294.9h6M338.65 300.13h6M349.48 293.12V298.35M346.48 293.12h6M346.48 298.35h6M357.31 292.28V297.51M354.31 292.28h6M354.31 297.51h6M365.13 290.87V296.1M362.13 290.87h6M362.13 296.1h6M372.96 289.61V294.84M369.96 289.61h6M369.96 294.84h6M380.78 288.57V293.8M377.78 288.57h6M377.78 293.8h6M388.61 286.79V292.02M385.61 286.79h6M385.61 292.02h6M396.44 285.95V291.18M393.44 285.95h6M393.44 291.18h6M404.26 284.38V289.61M401.26 284.38h6M401.26 289.61h6M412.09 283.49V288.72M409.09 283.49h6M409.09 288.72h6M419.91 282.08V287.31M416.91 282.08h6M416.91 287.31h6M427.74 281.77V287M424.74 281.77h6M424.74 287h6M435.57 280.72V285.95M432.57 280.72h6M432.57 285.95h6M443.39 279.47V284.7M440.39 279.47h6M440.39 284.7h6" stroke="#1f7f2c" stroke-width="1.3" fill="none"/>
<g fill="#1f7f2c"><circle cx="114.7" cy="329.36" r="2.9"/><circle cx="122.53" cy="332.5" r="2.9"/><circle cx="130.35" cy="334.07" r="2.9"/><circle cx="138.18" cy="335.64" r="2.9"/><circle cx="146" cy="336.68" r="2.9"/><circle cx="153.83" cy="336.68" r="2.9"/><circle cx="161.66" cy="336.16" r="2.9"/><circle cx="169.48" cy="335.64" r="2.9"/><circle cx="177.31" cy="335.11" r="2.9"/><circle cx="185.13" cy="334.59" r="2.9"/><circle cx="192.96" cy="333.02" r="2.9"/><circle cx="200.79" cy="330.93" r="2.9"/><circle cx="208.61" cy="328.99" r="2.9"/><circle cx="216.44" cy="327.22" r="2.9"/><circle cx="224.26" cy="325.39" r="2.9"/><circle cx="232.09" cy="324.13" r="2.9"/><circle cx="239.92" cy="321.67" r="2.9"/><circle cx="247.74" cy="319.79" r="2.9"/><circle cx="255.57" cy="317.02" r="2.9"/><circle cx="263.39" cy="314.3" r="2.9"/><circle cx="271.22" cy="312.99" r="2.9"/><circle cx="279.05" cy="310.53" r="2.9"/><circle cx="286.87" cy="308.7" r="2.9"/><circle cx="294.7" cy="306.87" r="2.9"/><circle cx="302.52" cy="304.41" r="2.9"/><circle cx="310.35" cy="302.69" r="2.9"/><circle cx="318.18" cy="301.12" r="2.9"/><circle cx="326" cy="299.55" r="2.9"/><circle cx="333.83" cy="298.5" r="2.9"/><circle cx="341.65" cy="297.51" r="2.9"/><circle cx="349.48" cy="295.73" r="2.9"/><circle cx="357.31" cy="294.9" r="2.9"/><circle cx="365.13" cy="293.48" r="2.9"/><circle cx="372.96" cy="292.23" r="2.9"/><circle cx="380.78" cy="291.18" r="2.9"/><circle cx="388.61" cy="289.4" r="2.9"/><circle cx="396.44" cy="288.57" r="2.9"/><circle cx="404.26" cy="287" r="2.9"/><circle cx="412.09" cy="286.11" r="2.9"/><circle cx="419.91" cy="284.7" r="2.9"/><circle cx="427.74" cy="284.38" r="2.9"/><circle cx="435.57" cy="283.34" r="2.9"/><circle cx="443.39" cy="282.08" r="2.9"/></g>
<path d="M114.7 330.09V335.32M111.7 330.09h6M111.7 335.32h6M122.53 336.26V341.49M119.53 336.26h6M119.53 341.49h6M130.35 338.77V344M127.35 338.77h6M127.35 344h6M138.18 339.4V344.63M135.18 339.4h6M135.18 344.63h6M146 339.82V345.05M143 339.82h6M143 345.05h6M153.83 339.3V344.53M150.83 339.3h6M150.83 344.53h6M161.66 338.77V344M158.66 338.77h6M158.66 344h6M169.48 336.89V342.12M166.48 336.89h6M166.48 342.12h6M177.31 335.64V340.87M174.31 335.64h6M174.31 340.87h6M185.13 333.81V339.04M182.13 333.81h6M182.13 339.04h6M192.96 331.45V336.68M189.96 331.45h6M189.96 336.68h6M200.79 329.34V334.62M197.79 329.34h6M197.79 334.62h6M208.61 326.28V331.71M205.61 326.28h6M205.61 331.71h6M216.44 322.57V328.2M213.44 322.57h6M213.44 328.2h6M224.26 319.99V325.87M221.26 319.99h6M221.26 325.87h6M232.09 316.7V322.88M229.09 316.7h6M229.09 322.88h6M239.92 313.26V319.73M236.92 313.26h6M236.92 319.73h6M247.74 309.04V315.79M244.74 309.04h6M244.74 315.79h6M255.57 304V311M252.57 304h6M252.57 311h6M263.39 299.82V307.02M260.39 299.82h6M260.39 307.02h6M271.22 293.95V301.28M268.22 293.95h6M268.22 301.28h6M279.05 289.57V296.98M276.05 289.57h6M276.05 296.98h6M286.87 283.94V291.42M283.87 283.94h6M283.87 291.42h6M294.7 279.03V286.6M291.7 279.03h6M291.7 286.6h6M302.52 272.72V280.36M299.52 272.72h6M299.52 280.36h6M310.35 266.04V273.75M307.35 266.04h6M307.35 273.75h6M318.18 260.41V268.19M315.18 260.41h6M315.18 268.19h6M326 252.74V260.59M323 252.74h6M323 260.59h6M333.83 246.43V254.34M330.83 246.43h6M330.83 254.34h6M341.65 238.04V246M338.65 238.04h6M338.65 246h6M349.48 230.69V238.71M346.48 230.69h6M346.48 238.71h6M357.31 222.81V230.89M354.31 222.81h6M354.31 230.89h6M365.13 214.95V223.07M362.13 214.95h6M362.13 223.07h6M372.96 206.82V214.99M369.96 206.82h6M369.96 214.99h6M380.78 200.26V208.47M377.78 200.26h6M377.78 208.47h6M388.61 192.4V200.64M385.61 192.4h6M385.61 200.64h6M396.44 185.06V193.34M393.44 185.06h6M393.44 193.34h6M404.26 177.98V186.29M401.26 177.98h6M401.26 186.29h6M412.09 170.39V178.72M409.09 170.39h6M409.09 178.72h6M419.91 164.31V172.66M416.91 164.31h6M416.91 172.66h6M427.74 158.14V166.49M424.74 158.14h6M424.74 166.49h6M435.57 152.43V160.8M432.57 152.43h6M432.57 160.8h6M443.39 146.83V155.2M440.39 146.83h6M440.39 155.2h6" stroke="#000000" stroke-width="1.3" fill="none"/>
<g fill="none" stroke="#000000" stroke-width="1.7"><circle cx="114.7" cy="332.71" r="2.9"/><circle cx="122.53" cy="338.88" r="2.9"/><circle cx="130.35" cy="341.39" r="2.9"/><circle cx="138.18" cy="342.02" r="2.9"/><circle cx="146" cy="342.44" r="2.9"/><circle cx="153.83" cy="341.91" r="2.9"/><circle cx="161.66" cy="341.39" r="2.9"/><circle cx="169.48" cy="339.51" r="2.9"/><circle cx="177.31" cy="338.25" r="2.9"/><circle cx="185.13" cy="336.42" r="2.9"/><circle cx="192.96" cy="334.07" r="2.9"/><circle cx="200.79" cy="331.98" r="2.9"/><circle cx="208.61" cy="328.99" r="2.9"/><circle cx="216.44" cy="325.39" r="2.9"/><circle cx="224.26" cy="322.93" r="2.9"/><circle cx="232.09" cy="319.79" r="2.9"/><circle cx="239.92" cy="316.5" r="2.9"/><circle cx="247.74" cy="312.42" r="2.9"/><circle cx="255.57" cy="307.5" r="2.9"/><circle cx="263.39" cy="303.42" r="2.9"/><circle cx="271.22" cy="297.61" r="2.9"/><circle cx="279.05" cy="293.27" r="2.9"/><circle cx="286.87" cy="287.68" r="2.9"/><circle cx="294.7" cy="282.81" r="2.9"/><circle cx="302.52" cy="276.54" r="2.9"/><circle cx="310.35" cy="269.9" r="2.9"/><circle cx="318.18" cy="264.3" r="2.9"/><circle cx="326" cy="256.66" r="2.9"/><circle cx="333.83" cy="250.39" r="2.9"/><circle cx="341.65" cy="242.02" r="2.9"/><circle cx="349.48" cy="234.7" r="2.9"/><circle cx="357.31" cy="226.85" r="2.9"/><circle cx="365.13" cy="219.01" r="2.9"/><circle cx="372.96" cy="210.9" r="2.9"/><circle cx="380.78" cy="204.36" r="2.9"/><circle cx="388.61" cy="196.52" r="2.9"/><circle cx="396.44" cy="189.2" r="2.9"/><circle cx="404.26" cy="182.14" r="2.9"/><circle cx="412.09" cy="174.55" r="2.9"/><circle cx="419.91" cy="168.49" r="2.9"/><circle cx="427.74" cy="162.31" r="2.9"/><circle cx="435.57" cy="156.61" r="2.9"/><circle cx="443.39" cy="151.02" r="2.9"/></g>
<path d="M806.3 339.33V346.32M803.3 339.33h6M803.3 346.32h6M814.14 336.37V343.37M811.14 336.37h6M811.14 343.37h6M821.98 333.21V340.2M818.98 333.21h6M818.98 340.2h6M829.83 329.91V336.9M826.83 329.91h6M826.83 336.9h6M837.67 326.21V333.21M834.67 326.21h6M834.67 333.21h6M845.51 321.46V328.46M842.51 321.46h6M842.51 328.46h6M853.35 316.6V323.59M850.35 316.6h6M850.35 323.59h6M861.19 312.66V319.66M858.19 312.66h6M858.19 319.66h6M869.04 307.85V314.85M866.04 307.85h6M866.04 314.85h6M876.88 303.04V310.04M873.88 303.04h6M873.88 310.04h6M884.72 296.49V303.48M881.72 296.49h6M881.72 303.48h6M892.56 291.24V298.24M889.56 291.24h6M889.56 298.24h6M900.4 285.73V292.73M897.4 285.73h6M897.4 292.73h6M908.25 279V286M905.25 279h6M905.25 286h6M916.09 271.57V278.56M913.09 271.57h6M913.09 278.56h6M923.93 263.52V270.52M920.93 263.52h6M920.93 270.52h6M931.77 256.84V263.83M928.77 256.84h6M928.77 263.83h6M939.61 248.7V255.7M936.61 248.7h6M936.61 255.7h6M947.46 242.02V249.01M944.46 242.02h6M944.46 249.01h6M955.3 235.11V242.1M952.3 235.11h6M952.3 242.1h6M963.14 227.72V234.72M960.14 227.72h6M960.14 234.72h6M970.98 221.6V228.6M967.98 221.6h6M967.98 228.6h6M978.82 215.44V222.43M975.82 215.44h6M975.82 222.43h6M986.67 209.05V216.05M983.67 209.05h6M983.67 216.05h6M994.51 203.15V210.15M991.51 203.15h6M991.51 210.15h6M1002.35 197.12V204.11M999.35 197.12h6M999.35 204.11h6M1010.19 191.92V198.91M1007.19 191.92h6M1007.19 198.91h6M1018.03 187.41V194.41M1015.03 187.41h6M1015.03 194.41h6M1025.88 182.82V189.82M1022.88 182.82h6M1022.88 189.82h6M1033.72 179.41V186.41M1030.72 179.41h6M1030.72 186.41h6M1041.56 176.14V183.13M1038.56 176.14h6M1038.56 183.13h6M1049.4 173.21V180.2M1046.4 173.21h6M1046.4 180.2h6M1057.24 170.41V177.4M1054.24 170.41h6M1054.24 177.4h6M1065.09 168.62V175.61M1062.09 168.62h6M1062.09 175.61h6M1072.93 167V173.99M1069.93 167h6M1069.93 173.99h6M1080.77 164.9V171.89M1077.77 164.9h6M1077.77 171.89h6M1088.61 163.15V170.15M1085.61 163.15h6M1085.61 170.15h6M1096.45 161.84V168.83M1093.45 161.84h6M1093.45 168.83h6M1104.3 160.97V167.96M1101.3 160.97h6M1101.3 167.96h6M1112.14 159.22V166.21M1109.14 159.22h6M1109.14 166.21h6M1119.98 157.91V164.9M1116.98 157.91h6M1116.98 164.9h6M1127.82 156.81V163.81M1124.82 156.81h6M1124.82 163.81h6M1135.66 155.72V162.71M1132.66 155.72h6M1132.66 162.71h6" stroke="#ebc74e" stroke-width="1.3" fill="none"/>
<g fill="#ebc74e"><circle cx="806.3" cy="342.83" r="2.9"/><circle cx="814.14" cy="339.87" r="2.9"/><circle cx="821.98" cy="336.71" r="2.9"/><circle cx="829.83" cy="333.41" r="2.9"/><circle cx="837.67" cy="329.71" r="2.9"/><circle cx="845.51" cy="324.96" r="2.9"/><circle cx="853.35" cy="320.09" r="2.9"/><circle cx="861.19" cy="316.16" r="2.9"/><circle cx="869.04" cy="311.35" r="2.9"/><circle cx="876.88" cy="306.54" r="2.9"/><circle cx="884.72" cy="299.98" r="2.9"/><circle cx="892.56" cy="294.74" r="2.9"/><circle cx="900.4" cy="289.23" r="2.9"/><circle cx="908.25" cy="282.5" r="2.9"/><circle cx="916.09" cy="275.07" r="2.9"/><circle cx="923.93" cy="267.02" r="2.9"/><circle cx="931.77" cy="260.33" r="2.9"/><circle cx="939.61" cy="252.2" r="2.9"/><circle cx="947.46" cy="245.51" r="2.9"/><circle cx="955.3" cy="238.61" r="2.9"/><circle cx="963.14" cy="231.22" r="2.9"/><circle cx="970.98" cy="225.1" r="2.9"/><circle cx="978.82" cy="218.93" r="2.9"/><circle cx="986.67" cy="212.55" r="2.9"/><circle cx="994.51" cy="206.65" r="2.9"/><circle cx="1002.35" cy="200.62" r="2.9"/><circle cx="1010.19" cy="195.41" r="2.9"/><circle cx="1018.03" cy="190.91" r="2.9"/><circle cx="1025.88" cy="186.32" r="2.9"/><circle cx="1033.72" cy="182.91" r="2.9"/><circle cx="1041.56" cy="179.63" r="2.9"/><circle cx="1049.4" cy="176.7" r="2.9"/><circle cx="1057.24" cy="173.91" r="2.9"/><circle cx="1065.09" cy="172.11" r="2.9"/><circle cx="1072.93" cy="170.5" r="2.9"/><circle cx="1080.77" cy="168.4" r="2.9"/><circle cx="1088.61" cy="166.65" r="2.9"/><circle cx="1096.45" cy="165.34" r="2.9"/><circle cx="1104.3" cy="164.46" r="2.9"/><circle cx="1112.14" cy="162.71" r="2.9"/><circle cx="1119.98" cy="161.4" r="2.9"/><circle cx="1127.82" cy="160.31" r="2.9"/><circle cx="1135.66" cy="159.22" r="2.9"/></g>
<path d="M806.3 340.64V345.01M803.3 340.64h6M803.3 345.01h6M814.14 337.69V342.06M811.14 337.69h6M811.14 342.06h6M821.98 334.52V338.89M818.98 334.52h6M818.98 338.89h6M829.83 331.22V335.59M826.83 331.22h6M826.83 335.59h6M837.67 327.53V331.9M834.67 327.53h6M834.67 331.9h6M845.51 322.84V327.22M842.51 322.84h6M842.51 327.22h6M853.35 317.91V322.28M850.35 317.91h6M850.35 322.28h6M861.19 313.54V317.91M858.19 313.54h6M858.19 317.91h6M869.04 310.48V314.85M866.04 310.48h6M866.04 314.85h6M876.88 308.73V313.1M873.88 308.73h6M873.88 313.1h6M884.72 305.67V310.04M881.72 305.67h6M881.72 310.04h6M892.56 301.82V306.19M889.56 301.82h6M889.56 306.19h6M900.4 299.33V303.7M897.4 299.33h6M897.4 303.7h6M908.25 296.14V300.51M905.25 296.14h6M905.25 300.51h6M916.09 292.73V297.1M913.09 292.73h6M913.09 297.1h6M923.93 290.02V294.39M920.93 290.02h6M920.93 294.39h6M931.77 287.04V291.42M928.77 287.04h6M928.77 291.42h6M939.61 284.51V288.88M936.61 284.51h6M936.61 288.88h6M947.46 281.62V286M944.46 281.62h6M944.46 286h6M955.3 278.43V282.8M952.3 278.43h6M952.3 282.8h6M963.14 275.94V280.31M960.14 275.94h6M960.14 280.31h6M970.98 272.92V277.3M967.98 272.92h6M967.98 277.3h6M978.82 271V275.37M975.82 271h6M975.82 275.37h6M986.67 268.51V272.88M983.67 268.51h6M983.67 272.88h6M994.51 265.54V269.91M991.51 265.54h6M991.51 269.91h6M1002.35 262.13V266.5M999.35 262.13h6M999.35 266.5h6M1010.19 259.94V264.31M1007.19 259.94h6M1007.19 264.31h6M1018.03 257.14V261.51M1015.03 257.14h6M1015.03 261.51h6M1025.88 254.21V258.58M1022.88 254.21h6M1022.88 258.58h6M1033.72 250.8V255.17M1030.72 250.8h6M1030.72 255.17h6M1041.56 247.44V251.81M1038.56 247.44h6M1038.56 251.81h6M1049.4 243.59V247.96M1046.4 243.59h6M1046.4 247.96h6M1057.24 240.62V244.99M1054.24 240.62h6M1054.24 244.99h6M1065.09 237.34V241.71M1062.09 237.34h6M1062.09 241.71h6M1072.93 234.54V238.91M1069.93 234.54h6M1069.93 238.91h6M1080.77 230.52V234.89M1077.77 230.52h6M1077.77 234.89h6M1088.61 227.11V231.48M1085.61 227.11h6M1085.61 231.48h6M1096.45 223.74V228.11M1093.45 223.74h6M1093.45 228.11h6M1104.3 220.33V224.7M1101.3 220.33h6M1101.3 224.7h6M1112.14 216.92V221.29M1109.14 216.92h6M1109.14 221.29h6M1119.98 213.12V217.49M1116.98 213.12h6M1116.98 217.49h6M1127.82 210.15V214.52M1124.82 210.15h6M1124.82 214.52h6M1135.66 206.74V211.11M1132.66 206.74h6M1132.66 211.11h6" stroke="#ef7e2a" stroke-width="1.3" fill="none"/>
<g fill="#ef7e2a"><circle cx="806.3" cy="342.83" r="2.9"/><circle cx="814.14" cy="339.87" r="2.9"/><circle cx="821.98" cy="336.71" r="2.9"/><circle cx="829.83" cy="333.41" r="2.9"/><circle cx="837.67" cy="329.71" r="2.9"/><circle cx="845.51" cy="325.03" r="2.9"/><circle cx="853.35" cy="320.09" r="2.9"/><circle cx="861.19" cy="315.72" r="2.9"/><circle cx="869.04" cy="312.66" r="2.9"/><circle cx="876.88" cy="310.91" r="2.9"/><circle cx="884.72" cy="307.85" r="2.9"/><circle cx="892.56" cy="304.01" r="2.9"/><circle cx="900.4" cy="301.51" r="2.9"/><circle cx="908.25" cy="298.32" r="2.9"/><circle cx="916.09" cy="294.91" r="2.9"/><circle cx="923.93" cy="292.2" r="2.9"/><circle cx="931.77" cy="289.23" r="2.9"/><circle cx="939.61" cy="286.69" r="2.9"/><circle cx="947.46" cy="283.81" r="2.9"/><circle cx="955.3" cy="280.62" r="2.9"/><circle cx="963.14" cy="278.13" r="2.9"/><circle cx="970.98" cy="275.11" r="2.9"/><circle cx="978.82" cy="273.19" r="2.9"/><circle cx="986.67" cy="270.69" r="2.9"/><circle cx="994.51" cy="267.72" r="2.9"/><circle cx="1002.35" cy="264.31" r="2.9"/><circle cx="1010.19" cy="262.13" r="2.9"/><circle cx="1018.03" cy="259.33" r="2.9"/><circle cx="1025.88" cy="256.4" r="2.9"/><circle cx="1033.72" cy="252.99" r="2.9"/><circle cx="1041.56" cy="249.62" r="2.9"/><circle cx="1049.4" cy="245.78" r="2.9"/><circle cx="1057.24" cy="242.8" r="2.9"/><circle cx="1065.09" cy="239.52" r="2.9"/><circle cx="1072.93" cy="236.73" r="2.9"/><circle cx="1080.77" cy="232.7" r="2.9"/><circle cx="1088.61" cy="229.29" r="2.9"/><circle cx="1096.45" cy="225.93" r="2.9"/><circle cx="1104.3" cy="222.52" r="2.9"/><circle cx="1112.14" cy="219.11" r="2.9"/><circle cx="1119.98" cy="215.31" r="2.9"/><circle cx="1127.82" cy="212.33" r="2.9"/><circle cx="1135.66" cy="208.92" r="2.9"/></g>
<path d="M806.3 342.04V343.35M803.3 342.04h6M803.3 343.35h6M814.14 340.33V341.65M811.14 340.33h6M811.14 341.65h6M821.98 337.84V339.15M818.98 337.84h6M818.98 339.15h6M829.83 335.83V337.14M826.83 335.83h6M826.83 337.14h6M837.67 334.96V336.27M834.67 334.96h6M834.67 336.27h6M845.51 334.65V335.96M842.51 334.65h6M842.51 335.96h6M853.35 334.96V336.27M850.35 334.96h6M850.35 336.27h6M861.19 335.44V336.75M858.19 335.44h6M858.19 336.75h6M869.04 336.66V337.97M866.04 336.66h6M866.04 337.97h6M876.88 337.36V338.67M873.88 337.36h6M873.88 338.67h6M884.72 338.32V339.64M881.72 338.32h6M881.72 339.64h6M892.56 339.11V340.42M889.56 339.11h6M889.56 340.42h6M900.4 339.85V341.17M897.4 339.85h6M897.4 341.17h6M908.25 340.33V341.65M905.25 340.33h6M905.25 341.65h6M916.09 341.03V342.35M913.09 341.03h6M913.09 342.35h6M923.93 342.04V343.35M920.93 342.04h6M920.93 343.35h6M931.77 342.61V343.92M928.77 342.61h6M928.77 343.92h6M939.61 343.08V344.39M936.61 343.08h6M936.61 344.39h6M947.46 343.48V344.79M944.46 343.48h6M944.46 344.79h6M955.3 343.84V345.15M952.3 343.84h6M952.3 345.15h6M963.14 344.14V345.45M960.14 344.14h6M960.14 345.45h6M970.98 344.39V345.7M967.98 344.39h6M967.98 345.7h6M978.82 344.62V345.93M975.82 344.62h6M975.82 345.93h6M986.67 344.83V346.14M983.67 344.83h6M983.67 346.14h6M994.51 345.01V346.32M991.51 345.01h6M991.51 346.32h6M1002.35 345.18V346.5M999.35 345.18h6M999.35 346.5h6M1010.19 345.35V346.66M1007.19 345.35h6M1007.19 346.66h6M1018.03 345.5V346.81M1015.03 345.5h6M1015.03 346.81h6M1025.88 345.64V346.95M1022.88 345.64h6M1022.88 346.95h6M1033.72 345.77V347.08M1030.72 345.77h6M1030.72 347.08h6M1041.56 345.89V347.2M1038.56 345.89h6M1038.56 347.2h6M1049.4 346V347.31M1046.4 346h6M1046.4 347.31h6M1057.24 346.11V347.42M1054.24 346.11h6M1054.24 347.42h6M1065.09 346.22V347.53M1062.09 346.22h6M1062.09 347.53h6M1072.93 346.33V347.64M1069.93 346.33h6M1069.93 347.64h6M1080.77 346.43V347.74M1077.77 346.43h6M1077.77 347.74h6M1088.61 346.52V347.84M1085.61 346.52h6M1085.61 347.84h6M1096.45 346.62V347.93M1093.45 346.62h6M1093.45 347.93h6M1104.3 346.7V348.01M1101.3 346.7h6M1101.3 348.01h6M1112.14 346.78V348.09M1109.14 346.78h6M1109.14 348.09h6M1119.98 346.85V348.17M1116.98 346.85h6M1116.98 348.17h6M1127.82 346.92V348.23M1124.82 346.92h6M1124.82 348.23h6M1135.66 346.98V348.29M1132.66 346.98h6M1132.66 348.29h6" stroke="#ff2418" stroke-width="1.3" fill="none"/>
<g fill="#ff2418"><circle cx="806.3" cy="342.7" r="2.9"/><circle cx="814.14" cy="340.99" r="2.9"/><circle cx="821.98" cy="338.5" r="2.9"/><circle cx="829.83" cy="336.49" r="2.9"/><circle cx="837.67" cy="335.61" r="2.9"/><circle cx="845.51" cy="335.31" r="2.9"/><circle cx="853.35" cy="335.61" r="2.9"/><circle cx="861.19" cy="336.09" r="2.9"/><circle cx="869.04" cy="337.32" r="2.9"/><circle cx="876.88" cy="338.02" r="2.9"/><circle cx="884.72" cy="338.98" r="2.9"/><circle cx="892.56" cy="339.77" r="2.9"/><circle cx="900.4" cy="340.51" r="2.9"/><circle cx="908.25" cy="340.99" r="2.9"/><circle cx="916.09" cy="341.69" r="2.9"/><circle cx="923.93" cy="342.7" r="2.9"/><circle cx="931.77" cy="343.26" r="2.9"/><circle cx="939.61" cy="343.73" r="2.9"/><circle cx="947.46" cy="344.14" r="2.9"/><circle cx="955.3" cy="344.49" r="2.9"/><circle cx="963.14" cy="344.79" r="2.9"/><circle cx="970.98" cy="345.05" r="2.9"/><circle cx="978.82" cy="345.28" r="2.9"/><circle cx="986.67" cy="345.48" r="2.9"/><circle cx="994.51" cy="345.67" r="2.9"/><circle cx="1002.35" cy="345.84" r="2.9"/><circle cx="1010.19" cy="346" r="2.9"/><circle cx="1018.03" cy="346.15" r="2.9"/><circle cx="1025.88" cy="346.29" r="2.9"/><circle cx="1033.72" cy="346.42" r="2.9"/><circle cx="1041.56" cy="346.54" r="2.9"/><circle cx="1049.4" cy="346.66" r="2.9"/><circle cx="1057.24" cy="346.77" r="2.9"/><circle cx="1065.09" cy="346.88" r="2.9"/><circle cx="1072.93" cy="346.98" r="2.9"/><circle cx="1080.77" cy="347.08" r="2.9"/><circle cx="1088.61" cy="347.18" r="2.9"/><circle cx="1096.45" cy="347.27" r="2.9"/><circle cx="1104.3" cy="347.36" r="2.9"/><circle cx="1112.14" cy="347.44" r="2.9"/><circle cx="1119.98" cy="347.51" r="2.9"/><circle cx="1127.82" cy="347.58" r="2.9"/><circle cx="1135.66" cy="347.64" r="2.9"/></g>
<path d="M806.3 341.82V343.57M803.3 341.82h6M803.3 343.57h6M814.14 339.33V341.08M811.14 339.33h6M811.14 341.08h6M821.98 335.61V337.36M818.98 335.61h6M818.98 337.36h6M829.83 331.9V333.65M826.83 331.9h6M826.83 333.65h6M837.67 328.53V330.28M834.67 328.53h6M834.67 330.28h6M845.51 326.04V327.79M842.51 326.04h6M842.51 327.79h6M853.35 322.85V324.6M850.35 322.85h6M850.35 324.6h6M861.19 321.14V322.89M858.19 321.14h6M858.19 322.89h6M869.04 317.95V319.7M866.04 317.95h6M866.04 319.7h6M876.88 316.25V318M873.88 316.25h6M873.88 318h6M884.72 316.73V318.48M881.72 316.73h6M881.72 318.48h6M892.56 318.43V320.18M889.56 318.43h6M889.56 320.18h6M900.4 319.13V320.88M897.4 319.13h6M897.4 320.88h6M908.25 320.44V322.19M905.25 320.44h6M905.25 322.19h6M916.09 322.15V323.9M913.09 322.15h6M913.09 323.9h6M923.93 323.64V325.38M920.93 323.64h6M920.93 325.38h6M931.77 325.34V327.09M928.77 325.34h6M928.77 327.09h6M939.61 326.52V328.27M936.61 326.52h6M936.61 328.27h6M947.46 327.35V329.1M944.46 327.35h6M944.46 329.1h6M955.3 327.83V329.58M952.3 327.83h6M952.3 329.58h6M963.14 328.53V330.28M960.14 328.53h6M960.14 330.28h6M970.98 328.8V330.55M967.98 328.8h6M967.98 330.55h6M978.82 329.01V330.76M975.82 329.01h6M975.82 330.76h6M986.67 329.3V331.05M983.67 329.3h6M983.67 331.05h6M994.51 329.54V331.29M991.51 329.54h6M991.51 331.29h6M1002.35 329.68V331.43M999.35 329.68h6M999.35 331.43h6M1010.19 329.79V331.54M1007.19 329.79h6M1007.19 331.54h6M1018.03 329.88V331.63M1015.03 329.88h6M1015.03 331.63h6M1025.88 329.97V331.72M1022.88 329.97h6M1022.88 331.72h6M1033.72 330.05V331.8M1030.72 330.05h6M1030.72 331.8h6M1041.56 330.15V331.9M1038.56 330.15h6M1038.56 331.9h6M1049.4 330.26V332.01M1046.4 330.26h6M1046.4 332.01h6M1057.24 330.37V332.12M1054.24 330.37h6M1054.24 332.12h6M1065.09 330.49V332.24M1062.09 330.49h6M1062.09 332.24h6M1072.93 330.6V332.35M1069.93 330.6h6M1069.93 332.35h6M1080.77 330.71V332.46M1077.77 330.71h6M1077.77 332.46h6M1088.61 330.8V332.55M1085.61 330.8h6M1085.61 332.55h6M1096.45 330.89V332.64M1093.45 330.89h6M1093.45 332.64h6M1104.3 330.97V332.72M1101.3 330.97h6M1101.3 332.72h6M1112.14 331.05V332.8M1109.14 331.05h6M1109.14 332.8h6M1119.98 331.12V332.87M1116.98 331.12h6M1116.98 332.87h6M1127.82 331.18V332.93M1124.82 331.18h6M1124.82 332.93h6M1135.66 331.24V332.99M1132.66 331.24h6M1132.66 332.99h6" stroke="#1f7f2c" stroke-width="1.3" fill="none"/>
<g fill="#1f7f2c"><circle cx="806.3" cy="342.7" r="2.9"/><circle cx="814.14" cy="340.2" r="2.9"/><circle cx="821.98" cy="336.49" r="2.9"/><circle cx="829.83" cy="332.77" r="2.9"/><circle cx="837.67" cy="329.41" r="2.9"/><circle cx="845.51" cy="326.91" r="2.9"/><circle cx="853.35" cy="323.72" r="2.9"/><circle cx="861.19" cy="322.02" r="2.9"/><circle cx="869.04" cy="318.83" r="2.9"/><circle cx="876.88" cy="317.12" r="2.9"/><circle cx="884.72" cy="317.6" r="2.9"/><circle cx="892.56" cy="319.31" r="2.9"/><circle cx="900.4" cy="320.01" r="2.9"/><circle cx="908.25" cy="321.32" r="2.9"/><circle cx="916.09" cy="323.02" r="2.9"/><circle cx="923.93" cy="324.51" r="2.9"/><circle cx="931.77" cy="326.21" r="2.9"/><circle cx="939.61" cy="327.39" r="2.9"/><circle cx="947.46" cy="328.23" r="2.9"/><circle cx="955.3" cy="328.71" r="2.9"/><circle cx="963.14" cy="329.41" r="2.9"/><circle cx="970.98" cy="329.68" r="2.9"/><circle cx="978.82" cy="329.89" r="2.9"/><circle cx="986.67" cy="330.17" r="2.9"/><circle cx="994.51" cy="330.41" r="2.9"/><circle cx="1002.35" cy="330.55" r="2.9"/><circle cx="1010.19" cy="330.66" r="2.9"/><circle cx="1018.03" cy="330.76" r="2.9"/><circle cx="1025.88" cy="330.84" r="2.9"/><circle cx="1033.72" cy="330.93" r="2.9"/><circle cx="1041.56" cy="331.02" r="2.9"/><circle cx="1049.4" cy="331.13" r="2.9"/><circle cx="1057.24" cy="331.25" r="2.9"/><circle cx="1065.09" cy="331.36" r="2.9"/><circle cx="1072.93" cy="331.48" r="2.9"/><circle cx="1080.77" cy="331.58" r="2.9"/><circle cx="1088.61" cy="331.68" r="2.9"/><circle cx="1096.45" cy="331.76" r="2.9"/><circle cx="1104.3" cy="331.85" r="2.9"/><circle cx="1112.14" cy="331.92" r="2.9"/><circle cx="1119.98" cy="331.99" r="2.9"/><circle cx="1127.82" cy="332.06" r="2.9"/><circle cx="1135.66" cy="332.12" r="2.9"/></g>
<path d="M806.3 340.95V344.44M803.3 340.95h6M803.3 344.44h6M814.14 338.45V341.95M811.14 338.45h6M811.14 341.95h6M821.98 334.74V338.24M818.98 334.74h6M818.98 338.24h6M829.83 331.02V334.52M826.83 331.02h6M826.83 334.52h6M837.67 327.66V331.15M834.67 327.66h6M834.67 331.15h6M845.51 323.29V326.78M842.51 323.29h6M842.51 326.78h6M853.35 317.78V321.27M850.35 317.78h6M850.35 321.27h6M861.19 313.36V316.86M858.19 313.36h6M858.19 316.86h6M869.04 307.98V311.48M866.04 307.98h6M866.04 311.48h6M876.88 302.26V305.75M873.88 302.26h6M873.88 305.75h6M884.72 295.57V299.07M881.72 295.57h6M881.72 299.07h6M892.56 288.66V292.16M889.56 288.66h6M889.56 292.16h6M900.4 281.27V284.77M897.4 281.27h6M897.4 284.77h6M908.25 273.36V276.86M905.25 273.36h6M905.25 276.86h6M916.09 265.27V268.77M913.09 265.27h6M913.09 268.77h6M923.93 256.7V260.2M920.93 256.7h6M920.93 260.2h6M931.77 247.96V251.46M928.77 247.96h6M928.77 251.46h6M939.61 239.35V242.85M936.61 239.35h6M936.61 242.85h6M947.46 231.96V235.46M944.46 231.96h6M944.46 235.46h6M955.3 224.57V228.07M952.3 224.57h6M952.3 228.07h6M963.14 216.66V220.16M960.14 216.66h6M960.14 220.16h6M970.98 209.75V213.25M967.98 209.75h6M967.98 213.25h6M978.82 202.93V206.43M975.82 202.93h6M975.82 206.43h6M986.67 196.81V200.31M983.67 196.81h6M983.67 200.31h6M994.51 191.13V194.63M991.51 191.13h6M991.51 194.63h6M1002.35 185.75V189.25M999.35 185.75h6M999.35 189.25h6M1010.19 181.16V184.66M1007.19 181.16h6M1007.19 184.66h6M1018.03 177.14V180.64M1015.03 177.14h6M1015.03 180.64h6M1025.88 173.99V177.49M1022.88 173.99h6M1022.88 177.49h6M1033.72 171.46V174.95M1030.72 171.46h6M1030.72 174.95h6M1041.56 169.45V172.94M1038.56 169.45h6M1038.56 172.94h6M1049.4 167.17V170.67M1046.4 167.17h6M1046.4 170.67h6M1057.24 165.34V168.83M1054.24 165.34h6M1054.24 168.83h6M1065.09 164.24V167.74M1062.09 164.24h6M1062.09 167.74h6M1072.93 163.15V166.65M1069.93 163.15h6M1069.93 166.65h6M1080.77 161.84V165.34M1077.77 161.84h6M1077.77 165.34h6M1088.61 160.83V164.33M1085.61 160.83h6M1085.61 164.33h6M1096.45 159.74V163.24M1093.45 159.74h6M1093.45 163.24h6M1104.3 159.04V162.54M1101.3 159.04h6M1101.3 162.54h6M1112.14 158.17V161.66M1109.14 158.17h6M1109.14 161.66h6M1119.98 156.77V160.27M1116.98 156.77h6M1116.98 160.27h6M1127.82 156.38V159.87M1124.82 156.38h6M1124.82 159.87h6M1135.66 155.89V159.39M1132.66 155.89h6M1132.66 159.39h6" stroke="#000000" stroke-width="1.3" fill="none"/>
<g fill="none" stroke="#000000" stroke-width="1.7"><circle cx="806.3" cy="342.7" r="2.9"/><circle cx="814.14" cy="340.2" r="2.9"/><circle cx="821.98" cy="336.49" r="2.9"/><circle cx="829.83" cy="332.77" r="2.9"/><circle cx="837.67" cy="329.41" r="2.9"/><circle cx="845.51" cy="325.03" r="2.9"/><circle cx="853.35" cy="319.53" r="2.9"/><circle cx="861.19" cy="315.11" r="2.9"/><circle cx="869.04" cy="309.73" r="2.9"/><circle cx="876.88" cy="304.01" r="2.9"/><circle cx="884.72" cy="297.32" r="2.9"/><circle cx="892.56" cy="290.41" r="2.9"/><circle cx="900.4" cy="283.02" r="2.9"/><circle cx="908.25" cy="275.11" r="2.9"/><circle cx="916.09" cy="267.02" r="2.9"/><circle cx="923.93" cy="258.45" r="2.9"/><circle cx="931.77" cy="249.71" r="2.9"/><circle cx="939.61" cy="241.1" r="2.9"/><circle cx="947.46" cy="233.71" r="2.9"/><circle cx="955.3" cy="226.32" r="2.9"/><circle cx="963.14" cy="218.41" r="2.9"/><circle cx="970.98" cy="211.5" r="2.9"/><circle cx="978.82" cy="204.68" r="2.9"/><circle cx="986.67" cy="198.56" r="2.9"/><circle cx="994.51" cy="192.88" r="2.9"/><circle cx="1002.35" cy="187.5" r="2.9"/><circle cx="1010.19" cy="182.91" r="2.9"/><circle cx="1018.03" cy="178.89" r="2.9"/><circle cx="1025.88" cy="175.74" r="2.9"/><circle cx="1033.72" cy="173.21" r="2.9"/><circle cx="1041.56" cy="171.2" r="2.9"/><circle cx="1049.4" cy="168.92" r="2.9"/><circle cx="1057.24" cy="167.09" r="2.9"/><circle cx="1065.09" cy="165.99" r="2.9"/><circle cx="1072.93" cy="164.9" r="2.9"/><circle cx="1080.77" cy="163.59" r="2.9"/><circle cx="1088.61" cy="162.58" r="2.9"/><circle cx="1096.45" cy="161.49" r="2.9"/><circle cx="1104.3" cy="160.79" r="2.9"/><circle cx="1112.14" cy="159.92" r="2.9"/><circle cx="1119.98" cy="158.52" r="2.9"/><circle cx="1127.82" cy="158.12" r="2.9"/><circle cx="1135.66" cy="157.64" r="2.9"/></g>
<path d="M1489.8 355.12V357.22M1486.8 355.12h6M1486.8 357.22h6M1497.63 352.87V354.97M1494.63 352.87h6M1494.63 354.97h6M1505.45 352.34V354.44M1502.45 352.34h6M1502.45 354.44h6M1513.28 351.82V353.92M1510.28 351.82h6M1510.28 353.92h6M1521.1 351.75V353.84M1518.1 351.75h6M1518.1 353.84h6M1528.93 351.7V353.79M1525.93 351.7h6M1525.93 353.79h6M1536.76 351.67V353.76M1533.76 351.67h6M1533.76 353.76h6M1544.58 351.64V353.74M1541.58 351.64h6M1541.58 353.74h6M1552.41 351.62V353.72M1549.41 351.62h6M1549.41 353.72h6M1560.23 351.6V353.7M1557.23 351.6h6M1557.23 353.7h6M1568.06 351.56V353.66M1565.06 351.56h6M1565.06 353.66h6M1575.89 351.51V353.61M1572.89 351.51h6M1572.89 353.61h6M1583.71 351.47V353.57M1580.71 351.47h6M1580.71 353.57h6M1591.54 351.42V353.52M1588.54 351.42h6M1588.54 353.52h6M1599.36 351.36V353.46M1596.36 351.36h6M1596.36 353.46h6M1607.19 351.28V353.38M1604.19 351.28h6M1604.19 353.38h6M1615.02 351.18V353.27M1612.02 351.18h6M1612.02 353.27h6M1622.84 351.03V353.13M1619.84 351.03h6M1619.84 353.13h6M1630.67 350.46V352.55M1627.67 350.46h6M1627.67 352.55h6M1638.49 349.83V351.92M1635.49 349.83h6M1635.49 351.92h6M1646.32 349.2V351.29M1643.32 349.2h6M1643.32 351.29h6M1654.15 347.88V349.98M1651.15 347.88h6M1651.15 349.98h6M1661.97 347.15V349.25M1658.97 347.15h6M1658.97 349.25h6M1669.8 345.73V347.83M1666.8 345.73h6M1666.8 347.83h6M1677.62 344.74V346.84M1674.62 344.74h6M1674.62 346.84h6M1685.45 342.95V345.05M1682.45 342.95h6M1682.45 345.05h6M1693.28 341.06V343.16M1690.28 341.06h6M1690.28 343.16h6M1701.1 338.86V340.96M1698.1 338.86h6M1698.1 340.96h6M1708.93 336.97V339.07M1705.93 336.97h6M1705.93 339.07h6M1716.75 334.66V336.76M1713.75 334.66h6M1713.75 336.76h6M1724.58 332.25V334.35M1721.58 332.25h6M1721.58 334.35h6M1732.41 329.84V331.94M1729.41 329.84h6M1729.41 331.94h6M1740.23 326.38V328.47M1737.23 326.38h6M1737.23 328.47h6M1748.06 322.76V324.85M1745.06 322.76h6M1745.06 324.85h6M1755.88 319.77V321.86M1752.88 319.77h6M1752.88 321.86h6M1763.71 316.46V318.56M1760.71 316.46h6M1760.71 318.56h6M1771.54 312.63V314.73M1768.54 312.63h6M1768.54 314.73h6M1779.36 309.33V311.43M1776.36 309.33h6M1776.36 311.43h6M1787.19 305.76V307.86M1784.19 305.76h6M1784.19 307.86h6M1795.01 301.56V303.66M1792.01 301.56h6M1792.01 303.66h6M1802.84 297.47V299.57M1799.84 297.47h6M1799.84 299.57h6M1810.67 293.27V295.37M1807.67 293.27h6M1807.67 295.37h6M1818.49 288.97V291.07M1815.49 288.97h6M1815.49 291.07h6" stroke="#ebc74e" stroke-width="1.3" fill="none"/>
<g fill="#ebc74e"><circle cx="1489.8" cy="356.17" r="2.9"/><circle cx="1497.63" cy="353.92" r="2.9"/><circle cx="1505.45" cy="353.39" r="2.9"/><circle cx="1513.28" cy="352.87" r="2.9"/><circle cx="1521.1" cy="352.79" r="2.9"/><circle cx="1528.93" cy="352.75" r="2.9"/><circle cx="1536.76" cy="352.71" r="2.9"/><circle cx="1544.58" cy="352.69" r="2.9"/><circle cx="1552.41" cy="352.67" r="2.9"/><circle cx="1560.23" cy="352.65" r="2.9"/><circle cx="1568.06" cy="352.61" r="2.9"/><circle cx="1575.89" cy="352.56" r="2.9"/><circle cx="1583.71" cy="352.52" r="2.9"/><circle cx="1591.54" cy="352.47" r="2.9"/><circle cx="1599.36" cy="352.41" r="2.9"/><circle cx="1607.19" cy="352.33" r="2.9"/><circle cx="1615.02" cy="352.23" r="2.9"/><circle cx="1622.84" cy="352.08" r="2.9"/><circle cx="1630.67" cy="351.5" r="2.9"/><circle cx="1638.49" cy="350.87" r="2.9"/><circle cx="1646.32" cy="350.25" r="2.9"/><circle cx="1654.15" cy="348.93" r="2.9"/><circle cx="1661.97" cy="348.2" r="2.9"/><circle cx="1669.8" cy="346.78" r="2.9"/><circle cx="1677.62" cy="345.79" r="2.9"/><circle cx="1685.45" cy="344" r="2.9"/><circle cx="1693.28" cy="342.11" r="2.9"/><circle cx="1701.1" cy="339.91" r="2.9"/><circle cx="1708.93" cy="338.02" r="2.9"/><circle cx="1716.75" cy="335.71" r="2.9"/><circle cx="1724.58" cy="333.3" r="2.9"/><circle cx="1732.41" cy="330.89" r="2.9"/><circle cx="1740.23" cy="327.43" r="2.9"/><circle cx="1748.06" cy="323.81" r="2.9"/><circle cx="1755.88" cy="320.82" r="2.9"/><circle cx="1763.71" cy="317.51" r="2.9"/><circle cx="1771.54" cy="313.68" r="2.9"/><circle cx="1779.36" cy="310.38" r="2.9"/><circle cx="1787.19" cy="306.81" r="2.9"/><circle cx="1795.01" cy="302.61" r="2.9"/><circle cx="1802.84" cy="298.52" r="2.9"/><circle cx="1810.67" cy="294.32" r="2.9"/><circle cx="1818.49" cy="290.02" r="2.9"/></g>
<path d="M1489.8 354.18V355.75M1486.8 354.18h6M1486.8 355.75h6M1497.63 354.7V356.28M1494.63 354.7h6M1494.63 356.28h6M1505.45 355.39V356.96M1502.45 355.39h6M1502.45 356.96h6M1513.28 356.12V357.69M1510.28 356.12h6M1510.28 357.69h6M1521.1 357.43V359.01M1518.1 357.43h6M1518.1 359.01h6M1528.93 358.53V360.11M1525.93 358.53h6M1525.93 360.11h6M1536.76 359.85V361.42M1533.76 359.85h6M1533.76 361.42h6M1544.58 361.52V363.1M1541.58 361.52h6M1541.58 363.1h6M1552.41 362.1V363.68M1549.41 362.1h6M1549.41 363.68h6M1560.23 362.84V364.41M1557.23 362.84h6M1557.23 364.41h6M1568.06 364.41V365.98M1565.06 364.41h6M1565.06 365.98h6M1575.89 364.72V366.29M1572.89 364.72h6M1572.89 366.29h6M1583.71 364.83V366.4M1580.71 364.83h6M1580.71 366.4h6M1591.54 364.83V366.4M1588.54 364.83h6M1588.54 366.4h6M1599.36 364.83V366.4M1596.36 364.83h6M1596.36 366.4h6M1607.19 364.83V366.4M1604.19 364.83h6M1604.19 366.4h6M1615.02 364.83V366.4M1612.02 364.83h6M1612.02 366.4h6M1622.84 364.83V366.4M1619.84 364.83h6M1619.84 366.4h6M1630.67 364.83V366.4M1627.67 364.83h6M1627.67 366.4h6M1638.49 364.83V366.4M1635.49 364.83h6M1635.49 366.4h6M1646.32 364.83V366.4M1643.32 364.83h6M1643.32 366.4h6M1654.15 364.83V366.4M1651.15 364.83h6M1651.15 366.4h6M1661.97 364.83V366.4M1658.97 364.83h6M1658.97 366.4h6M1669.8 364.83V366.4M1666.8 364.83h6M1666.8 366.4h6M1677.62 364.83V366.4M1674.62 364.83h6M1674.62 366.4h6M1685.45 364.83V366.4M1682.45 364.83h6M1682.45 366.4h6M1693.28 364.83V366.4M1690.28 364.83h6M1690.28 366.4h6M1701.1 364.83V366.4M1698.1 364.83h6M1698.1 366.4h6M1708.93 364.83V366.4M1705.93 364.83h6M1705.93 366.4h6M1716.75 364.83V366.4M1713.75 364.83h6M1713.75 366.4h6M1724.58 364.83V366.4M1721.58 364.83h6M1721.58 366.4h6M1732.41 364.83V366.4M1729.41 364.83h6M1729.41 366.4h6M1740.23 364.83V366.4M1737.23 364.83h6M1737.23 366.4h6M1748.06 364.83V366.4M1745.06 364.83h6M1745.06 366.4h6M1755.88 364.83V366.4M1752.88 364.83h6M1752.88 366.4h6M1763.71 364.83V366.4M1760.71 364.83h6M1760.71 366.4h6M1771.54 364.83V366.4M1768.54 364.83h6M1768.54 366.4h6M1779.36 364.83V366.4M1776.36 364.83h6M1776.36 366.4h6M1787.19 364.83V366.4M1784.19 364.83h6M1784.19 366.4h6M1795.01 364.83V366.4M1792.01 364.83h6M1792.01 366.4h6M1802.84 364.83V366.4M1799.84 364.83h6M1799.84 366.4h6M1810.67 364.83V366.4M1807.67 364.83h6M1807.67 366.4h6M1818.49 364.83V366.4M1815.49 364.83h6M1815.49 366.4h6" stroke="#ef7e2a" stroke-width="1.3" fill="none"/>
<g fill="#ef7e2a"><circle cx="1489.8" cy="354.97" r="2.9"/><circle cx="1497.63" cy="355.49" r="2.9"/><circle cx="1505.45" cy="356.17" r="2.9"/><circle cx="1513.28" cy="356.91" r="2.9"/><circle cx="1521.1" cy="358.22" r="2.9"/><circle cx="1528.93" cy="359.32" r="2.9"/><circle cx="1536.76" cy="360.63" r="2.9"/><circle cx="1544.58" cy="362.31" r="2.9"/><circle cx="1552.41" cy="362.89" r="2.9"/><circle cx="1560.23" cy="363.62" r="2.9"/><circle cx="1568.06" cy="365.2" r="2.9"/><circle cx="1575.89" cy="365.51" r="2.9"/><circle cx="1583.71" cy="365.62" r="2.9"/><circle cx="1591.54" cy="365.62" r="2.9"/><circle cx="1599.36" cy="365.62" r="2.9"/><circle cx="1607.19" cy="365.62" r="2.9"/><circle cx="1615.02" cy="365.62" r="2.9"/><circle cx="1622.84" cy="365.62" r="2.9"/><circle cx="1630.67" cy="365.62" r="2.9"/><circle cx="1638.49" cy="365.62" r="2.9"/><circle cx="1646.32" cy="365.62" r="2.9"/><circle cx="1654.15" cy="365.62" r="2.9"/><circle cx="1661.97" cy="365.62" r="2.9"/><circle cx="1669.8" cy="365.62" r="2.9"/><circle cx="1677.62" cy="365.62" r="2.9"/><circle cx="1685.45" cy="365.62" r="2.9"/><circle cx="1693.28" cy="365.62" r="2.9"/><circle cx="1701.1" cy="365.62" r="2.9"/><circle cx="1708.93" cy="365.62" r="2.9"/><circle cx="1716.75" cy="365.62" r="2.9"/><circle cx="1724.58" cy="365.62" r="2.9"/><circle cx="1732.41" cy="365.62" r="2.9"/><circle cx="1740.23" cy="365.62" r="2.9"/><circle cx="1748.06" cy="365.62" r="2.9"/><circle cx="1755.88" cy="365.62" r="2.9"/><circle cx="1763.71" cy="365.62" r="2.9"/><circle cx="1771.54" cy="365.62" r="2.9"/><circle cx="1779.36" cy="365.62" r="2.9"/><circle cx="1787.19" cy="365.62" r="2.9"/><circle cx="1795.01" cy="365.62" r="2.9"/><circle cx="1802.84" cy="365.62" r="2.9"/><circle cx="1810.67" cy="365.62" r="2.9"/><circle cx="1818.49" cy="365.62" r="2.9"/></g>
<path d="M1489.8 348.41V349.98M1486.8 348.41h6M1486.8 349.98h6M1497.63 356.12V357.69M1494.63 356.12h6M1494.63 357.69h6M1505.45 359.43V361M1502.45 359.43h6M1502.45 361h6M1513.28 362.84V364.41M1510.28 362.84h6M1510.28 364.41h6M1521.1 363.41V364.99M1518.1 363.41h6M1518.1 364.99h6M1528.93 363.16V364.74M1525.93 363.16h6M1525.93 364.74h6M1536.76 362.84V364.41M1533.76 362.84h6M1533.76 364.41h6M1544.58 362.7V364.27M1541.58 362.7h6M1541.58 364.27h6M1552.41 362.59V364.16M1549.41 362.59h6M1549.41 364.16h6M1560.23 362.5V364.07M1557.23 362.5h6M1557.23 364.07h6M1568.06 362.42V363.99M1565.06 362.42h6M1565.06 363.99h6M1575.89 362.35V363.92M1572.89 362.35h6M1572.89 363.92h6M1583.71 362.29V363.86M1580.71 362.29h6M1580.71 363.86h6M1591.54 362.22V363.79M1588.54 362.22h6M1588.54 363.79h6M1599.36 362.14V363.71M1596.36 362.14h6M1596.36 363.71h6M1607.19 362.05V363.62M1604.19 362.05h6M1604.19 363.62h6M1615.02 361.94V363.51M1612.02 361.94h6M1612.02 363.51h6M1622.84 361.8V363.37M1619.84 361.8h6M1619.84 363.37h6M1630.67 361.65V363.23M1627.67 361.65h6M1627.67 363.23h6M1638.49 361.5V363.07M1635.49 361.5h6M1635.49 363.07h6M1646.32 361.35V362.93M1643.32 361.35h6M1643.32 362.93h6M1654.15 361.22V362.8M1651.15 361.22h6M1651.15 362.8h6M1661.97 361.11V362.69M1658.97 361.11h6M1658.97 362.69h6M1669.8 361.04V362.61M1666.8 361.04h6M1666.8 362.61h6M1677.62 361V362.57M1674.62 361h6M1674.62 362.57h6M1685.45 360.99V362.56M1682.45 360.99h6M1682.45 362.56h6M1693.28 360.98V362.55M1690.28 360.98h6M1690.28 362.55h6M1701.1 360.97V362.54M1698.1 360.97h6M1698.1 362.54h6M1708.93 360.96V362.53M1705.93 360.96h6M1705.93 362.53h6M1716.75 360.95V362.52M1713.75 360.95h6M1713.75 362.52h6M1724.58 360.94V362.51M1721.58 360.94h6M1721.58 362.51h6M1732.41 360.93V362.51M1729.41 360.93h6M1729.41 362.51h6M1740.23 360.93V362.5M1737.23 360.93h6M1737.23 362.5h6M1748.06 360.92V362.49M1745.06 360.92h6M1745.06 362.49h6M1755.88 360.91V362.49M1752.88 360.91h6M1752.88 362.49h6M1763.71 360.91V362.48M1760.71 360.91h6M1760.71 362.48h6M1771.54 360.91V362.48M1768.54 360.91h6M1768.54 362.48h6M1779.36 360.9V362.48M1776.36 360.9h6M1776.36 362.48h6M1787.19 360.9V362.47M1784.19 360.9h6M1784.19 362.47h6M1795.01 360.9V362.47M1792.01 360.9h6M1792.01 362.47h6M1802.84 360.9V362.47M1799.84 360.9h6M1799.84 362.47h6M1810.67 360.9V362.47M1807.67 360.9h6M1807.67 362.47h6M1818.49 360.89V362.47M1815.49 360.89h6M1815.49 362.47h6" stroke="#ff2418" stroke-width="1.3" fill="none"/>
<g fill="#ff2418"><circle cx="1489.8" cy="349.2" r="2.9"/><circle cx="1497.63" cy="356.91" r="2.9"/><circle cx="1505.45" cy="360.21" r="2.9"/><circle cx="1513.28" cy="363.62" r="2.9"/><circle cx="1521.1" cy="364.2" r="2.9"/><circle cx="1528.93" cy="363.95" r="2.9"/><circle cx="1536.76" cy="363.62" r="2.9"/><circle cx="1544.58" cy="363.49" r="2.9"/><circle cx="1552.41" cy="363.37" r="2.9"/><circle cx="1560.23" cy="363.28" r="2.9"/><circle cx="1568.06" cy="363.21" r="2.9"/><circle cx="1575.89" cy="363.14" r="2.9"/><circle cx="1583.71" cy="363.07" r="2.9"/><circle cx="1591.54" cy="363" r="2.9"/><circle cx="1599.36" cy="362.93" r="2.9"/><circle cx="1607.19" cy="362.84" r="2.9"/><circle cx="1615.02" cy="362.72" r="2.9"/><circle cx="1622.84" cy="362.59" r="2.9"/><circle cx="1630.67" cy="362.44" r="2.9"/><circle cx="1638.49" cy="362.29" r="2.9"/><circle cx="1646.32" cy="362.14" r="2.9"/><circle cx="1654.15" cy="362.01" r="2.9"/><circle cx="1661.97" cy="361.9" r="2.9"/><circle cx="1669.8" cy="361.82" r="2.9"/><circle cx="1677.62" cy="361.79" r="2.9"/><circle cx="1685.45" cy="361.77" r="2.9"/><circle cx="1693.28" cy="361.76" r="2.9"/><circle cx="1701.1" cy="361.75" r="2.9"/><circle cx="1708.93" cy="361.74" r="2.9"/><circle cx="1716.75" cy="361.73" r="2.9"/><circle cx="1724.58" cy="361.73" r="2.9"/><circle cx="1732.41" cy="361.72" r="2.9"/><circle cx="1740.23" cy="361.71" r="2.9"/><circle cx="1748.06" cy="361.71" r="2.9"/><circle cx="1755.88" cy="361.7" r="2.9"/><circle cx="1763.71" cy="361.7" r="2.9"/><circle cx="1771.54" cy="361.69" r="2.9"/><circle cx="1779.36" cy="361.69" r="2.9"/><circle cx="1787.19" cy="361.69" r="2.9"/><circle cx="1795.01" cy="361.68" r="2.9"/><circle cx="1802.84" cy="361.68" r="2.9"/><circle cx="1810.67" cy="361.68" r="2.9"/><circle cx="1818.49" cy="361.68" r="2.9"/></g>
<path d="M1489.8 349.98V351.56M1486.8 349.98h6M1486.8 351.56h6M1497.63 352.08V353.66M1494.63 352.08h6M1494.63 353.66h6M1505.45 352.08V353.66M1502.45 352.08h6M1502.45 353.66h6M1513.28 351.56V353.13M1510.28 351.56h6M1510.28 353.13h6M1521.1 350.72V352.29M1518.1 350.72h6M1518.1 352.29h6M1528.93 349.46V351.03M1525.93 349.46h6M1525.93 351.03h6M1536.76 349.46V351.03M1533.76 349.46h6M1533.76 351.03h6M1544.58 350.72V352.29M1541.58 350.72h6M1541.58 352.29h6M1552.41 351.82V353.39M1549.41 351.82h6M1549.41 353.39h6M1560.23 353.13V354.7M1557.23 353.13h6M1557.23 354.7h6M1568.06 354.7V356.28M1565.06 354.7h6M1565.06 356.28h6M1575.89 355.23V356.8M1572.89 355.23h6M1572.89 356.8h6M1583.71 355.23V356.8M1580.71 355.23h6M1580.71 356.8h6M1591.54 355.23V356.8M1588.54 355.23h6M1588.54 356.8h6M1599.36 355.23V356.8M1596.36 355.23h6M1596.36 356.8h6M1607.19 355.23V356.8M1604.19 355.23h6M1604.19 356.8h6M1615.02 355.23V356.8M1612.02 355.23h6M1612.02 356.8h6M1622.84 355.23V356.8M1619.84 355.23h6M1619.84 356.8h6M1630.67 355.23V356.8M1627.67 355.23h6M1627.67 356.8h6M1638.49 355.23V356.8M1635.49 355.23h6M1635.49 356.8h6M1646.32 355.23V356.8M1643.32 355.23h6M1643.32 356.8h6M1654.15 355.2V356.78M1651.15 355.2h6M1651.15 356.78h6M1661.97 355.13V356.71M1658.97 355.13h6M1658.97 356.71h6M1669.8 355.03V356.6M1666.8 355.03h6M1666.8 356.6h6M1677.62 354.9V356.47M1674.62 354.9h6M1674.62 356.47h6M1685.45 354.75V356.32M1682.45 354.75h6M1682.45 356.32h6M1693.28 354.6V356.18M1690.28 354.6h6M1690.28 356.18h6M1701.1 354.46V356.03M1698.1 354.46h6M1698.1 356.03h6M1708.93 354.34V355.91M1705.93 354.34h6M1705.93 355.91h6M1716.75 354.24V355.81M1713.75 354.24h6M1713.75 355.81h6M1724.58 354.18V355.75M1721.58 354.18h6M1721.58 355.75h6M1732.41 354.14V355.72M1729.41 354.14h6M1729.41 355.72h6M1740.23 354.11V355.68M1737.23 354.11h6M1737.23 355.68h6M1748.06 354.08V355.65M1745.06 354.08h6M1745.06 355.65h6M1755.88 354.05V355.62M1752.88 354.05h6M1752.88 355.62h6M1763.71 354.02V355.59M1760.71 354.02h6M1760.71 355.59h6M1771.54 353.99V355.57M1768.54 353.99h6M1768.54 355.57h6M1779.36 353.97V355.55M1776.36 353.97h6M1776.36 355.55h6M1787.19 353.95V355.53M1784.19 353.95h6M1784.19 355.53h6M1795.01 353.94V355.51M1792.01 353.94h6M1792.01 355.51h6M1802.84 353.93V355.5M1799.84 353.93h6M1799.84 355.5h6M1810.67 353.92V355.49M1807.67 353.92h6M1807.67 355.49h6M1818.49 353.92V355.49M1815.49 353.92h6M1815.49 355.49h6" stroke="#1f7f2c" stroke-width="1.3" fill="none"/>
<g fill="#1f7f2c"><circle cx="1489.8" cy="350.77" r="2.9"/><circle cx="1497.63" cy="352.87" r="2.9"/><circle cx="1505.45" cy="352.87" r="2.9"/><circle cx="1513.28" cy="352.34" r="2.9"/><circle cx="1521.1" cy="351.5" r="2.9"/><circle cx="1528.93" cy="350.25" r="2.9"/><circle cx="1536.76" cy="350.25" r="2.9"/><circle cx="1544.58" cy="351.5" r="2.9"/><circle cx="1552.41" cy="352.61" r="2.9"/><circle cx="1560.23" cy="353.92" r="2.9"/><circle cx="1568.06" cy="355.49" r="2.9"/><circle cx="1575.89" cy="356.02" r="2.9"/><circle cx="1583.71" cy="356.02" r="2.9"/><circle cx="1591.54" cy="356.02" r="2.9"/><circle cx="1599.36" cy="356.02" r="2.9"/><circle cx="1607.19" cy="356.02" r="2.9"/><circle cx="1615.02" cy="356.02" r="2.9"/><circle cx="1622.84" cy="356.02" r="2.9"/><circle cx="1630.67" cy="356.02" r="2.9"/><circle cx="1638.49" cy="356.02" r="2.9"/><circle cx="1646.32" cy="356.02" r="2.9"/><circle cx="1654.15" cy="355.99" r="2.9"/><circle cx="1661.97" cy="355.92" r="2.9"/><circle cx="1669.8" cy="355.81" r="2.9"/><circle cx="1677.62" cy="355.68" r="2.9"/><circle cx="1685.45" cy="355.54" r="2.9"/><circle cx="1693.28" cy="355.39" r="2.9"/><circle cx="1701.1" cy="355.25" r="2.9"/><circle cx="1708.93" cy="355.12" r="2.9"/><circle cx="1716.75" cy="355.03" r="2.9"/><circle cx="1724.58" cy="354.97" r="2.9"/><circle cx="1732.41" cy="354.93" r="2.9"/><circle cx="1740.23" cy="354.9" r="2.9"/><circle cx="1748.06" cy="354.86" r="2.9"/><circle cx="1755.88" cy="354.83" r="2.9"/><circle cx="1763.71" cy="354.81" r="2.9"/><circle cx="1771.54" cy="354.78" r="2.9"/><circle cx="1779.36" cy="354.76" r="2.9"/><circle cx="1787.19" cy="354.74" r="2.9"/><circle cx="1795.01" cy="354.72" r="2.9"/><circle cx="1802.84" cy="354.71" r="2.9"/><circle cx="1810.67" cy="354.71" r="2.9"/><circle cx="1818.49" cy="354.7" r="2.9"/></g>
<path d="M1489.8 348.83V350.93M1486.8 348.83h6M1486.8 350.93h6M1497.63 351.56V353.66M1494.63 351.56h6M1494.63 353.66h6M1505.45 351.56V353.66M1502.45 351.56h6M1502.45 353.66h6M1513.28 350.77V352.87M1510.28 350.77h6M1510.28 352.87h6M1521.1 349.83V351.92M1518.1 349.83h6M1518.1 351.92h6M1528.93 348.46V350.56M1525.93 348.46h6M1525.93 350.56h6M1536.76 347.15V349.25M1533.76 347.15h6M1533.76 349.25h6M1544.58 345.47V347.57M1541.58 345.47h6M1541.58 347.57h6M1552.41 343.85V345.94M1549.41 343.85h6M1549.41 345.94h6M1560.23 342.48V344.58M1557.23 342.48h6M1557.23 344.58h6M1568.06 341.17V343.27M1565.06 341.17h6M1565.06 343.27h6M1575.89 339.18V341.27M1572.89 339.18h6M1572.89 341.27h6M1583.71 337.13V339.23M1580.71 337.13h6M1580.71 339.23h6M1591.54 335.14V337.24M1588.54 335.14h6M1588.54 337.24h6M1599.36 332.46V334.56M1596.36 332.46h6M1596.36 334.56h6M1607.19 329.79V331.88M1604.19 329.79h6M1604.19 331.88h6M1615.02 327.16V329.26M1612.02 327.16h6M1612.02 329.26h6M1622.84 323.49V325.59M1619.84 323.49h6M1619.84 325.59h6M1630.67 321.08V323.18M1627.67 321.08h6M1627.67 323.18h6M1638.49 317.35V319.45M1635.49 317.35h6M1635.49 319.45h6M1646.32 313.73V315.83M1643.32 313.73h6M1643.32 315.83h6M1654.15 309.75V311.84M1651.15 309.75h6M1651.15 311.84h6M1661.97 304.55V306.65M1658.97 304.55h6M1658.97 306.65h6M1669.8 299.83V301.93M1666.8 299.83h6M1666.8 301.93h6M1677.62 295.58V297.68M1674.62 295.58h6M1674.62 297.68h6M1685.45 290.18V292.28M1682.45 290.18h6M1682.45 292.28h6M1693.28 284.93V287.03M1690.28 284.93h6M1690.28 287.03h6M1701.1 278.53V280.63M1698.1 278.53h6M1698.1 280.63h6M1708.93 271.92V274.02M1705.93 271.92h6M1705.93 274.02h6M1716.75 266.05V268.15M1713.75 266.05h6M1713.75 268.15h6M1724.58 260.17V262.27M1721.58 260.17h6M1721.58 262.27h6M1732.41 253.04V255.14M1729.41 253.04h6M1729.41 255.14h6M1740.23 245.95V248.05M1737.23 245.95h6M1737.23 248.05h6M1748.06 238.87V240.97M1745.06 238.87h6M1745.06 240.97h6M1755.88 231.27V233.36M1752.88 231.27h6M1752.88 233.36h6M1763.71 223.45V225.55M1760.71 223.45h6M1760.71 225.55h6M1771.54 215.63V217.73M1768.54 215.63h6M1768.54 217.73h6M1779.36 207.66V209.76M1776.36 207.66h6M1776.36 209.76h6M1787.19 199.84V201.94M1784.19 199.84h6M1784.19 201.94h6M1795.01 191.03V193.13M1792.01 191.03h6M1792.01 193.13h6M1802.84 182.06V184.16M1799.84 182.06h6M1799.84 184.16h6M1810.67 173.35V175.45M1807.67 173.35h6M1807.67 175.45h6M1818.49 165.53V167.63M1815.49 165.53h6M1815.49 167.63h6" stroke="#000000" stroke-width="1.3" fill="none"/>
<g fill="none" stroke="#000000" stroke-width="1.7"><circle cx="1489.8" cy="349.88" r="2.9"/><circle cx="1497.63" cy="352.61" r="2.9"/><circle cx="1505.45" cy="352.61" r="2.9"/><circle cx="1513.28" cy="351.82" r="2.9"/><circle cx="1521.1" cy="350.87" r="2.9"/><circle cx="1528.93" cy="349.51" r="2.9"/><circle cx="1536.76" cy="348.2" r="2.9"/><circle cx="1544.58" cy="346.52" r="2.9"/><circle cx="1552.41" cy="344.89" r="2.9"/><circle cx="1560.23" cy="343.53" r="2.9"/><circle cx="1568.06" cy="342.22" r="2.9"/><circle cx="1575.89" cy="340.23" r="2.9"/><circle cx="1583.71" cy="338.18" r="2.9"/><circle cx="1591.54" cy="336.19" r="2.9"/><circle cx="1599.36" cy="333.51" r="2.9"/><circle cx="1607.19" cy="330.84" r="2.9"/><circle cx="1615.02" cy="328.21" r="2.9"/><circle cx="1622.84" cy="324.54" r="2.9"/><circle cx="1630.67" cy="322.13" r="2.9"/><circle cx="1638.49" cy="318.4" r="2.9"/><circle cx="1646.32" cy="314.78" r="2.9"/><circle cx="1654.15" cy="310.8" r="2.9"/><circle cx="1661.97" cy="305.6" r="2.9"/><circle cx="1669.8" cy="300.88" r="2.9"/><circle cx="1677.62" cy="296.63" r="2.9"/><circle cx="1685.45" cy="291.23" r="2.9"/><circle cx="1693.28" cy="285.98" r="2.9"/><circle cx="1701.1" cy="279.58" r="2.9"/><circle cx="1708.93" cy="272.97" r="2.9"/><circle cx="1716.75" cy="267.1" r="2.9"/><circle cx="1724.58" cy="261.22" r="2.9"/><circle cx="1732.41" cy="254.09" r="2.9"/><circle cx="1740.23" cy="247" r="2.9"/><circle cx="1748.06" cy="239.92" r="2.9"/><circle cx="1755.88" cy="232.32" r="2.9"/><circle cx="1763.71" cy="224.5" r="2.9"/><circle cx="1771.54" cy="216.68" r="2.9"/><circle cx="1779.36" cy="208.71" r="2.9"/><circle cx="1787.19" cy="200.89" r="2.9"/><circle cx="1795.01" cy="192.08" r="2.9"/><circle cx="1802.84" cy="183.11" r="2.9"/><circle cx="1810.67" cy="174.4" r="2.9"/><circle cx="1818.49" cy="166.58" r="2.9"/></g>
<path d="M114.5 848.26V859.09M111.5 848.26h6M111.5 859.09h6M122.64 823.62V834.98M119.64 823.62h6M119.64 834.98h6M130.79 811.19V823.04M127.79 811.19h6M127.79 823.04h6M138.93 802.83V815.15M135.93 802.83h6M135.93 815.15h6M147.08 794.5V807.23M144.08 794.5h6M144.08 807.23h6M155.22 784.83V797.95M152.22 784.83h6M152.22 797.95h6M163.36 773.83V787.28M160.36 773.83h6M160.36 787.28h6M171.51 761.51V775.23M168.51 761.51h6M168.51 775.23h6M179.65 746.52V760.43M176.65 746.52h6M176.65 760.43h6M187.8 731.56V745.6M184.8 731.56h6M184.8 745.6h6M195.94 718V732.08M192.94 718h6M192.94 732.08h6M204.08 704.46V718.54M201.08 704.46h6M201.08 718.54h6M212.23 690.92V705M209.23 690.92h6M209.23 705h6M220.37 677.38V691.46M217.37 677.38h6M217.37 691.46h6M228.52 665.2V679.28M225.52 665.2h6M225.52 679.28h6M236.66 654.36V668.44M233.66 654.36h6M233.66 668.44h6M244.8 647.59V661.67M241.8 647.59h6M241.8 661.67h6M252.95 643.99V657.16M249.95 643.99h6M249.95 657.16h6M261.09 642.28V653.45M258.09 642.28h6M258.09 653.45h6M269.24 642.9V652.02M266.24 642.9h6M266.24 652.02h6M277.38 643.26V651.38M274.38 643.26h6M274.38 651.38h6M285.52 643.74V651.75M282.52 643.74h6M282.52 651.75h6M293.67 644.73V652.63M290.67 644.73h6M290.67 652.63h6M301.81 645.71V653.51M298.81 645.71h6M298.81 653.51h6M309.96 646.18V653.88M306.96 646.18h6M306.96 653.88h6M318.1 646.2V653.81M315.1 646.2h6M315.1 653.81h6M326.24 646.16V653.7M323.24 646.16h6M323.24 653.7h6M334.39 646.07V653.54M331.39 646.07h6M331.39 653.54h6M342.53 645.95V653.35M339.53 645.95h6M339.53 653.35h6M350.68 645.78V653.12M347.68 645.78h6M347.68 653.12h6M358.82 645.57V652.87M355.82 645.57h6M355.82 652.87h6M366.96 644.92V652.17M363.96 644.92h6M363.96 652.17h6M375.11 643.95V651.16M372.11 643.95h6M372.11 651.16h6M383.25 643.47V650.64M380.25 643.47h6M380.25 650.64h6M391.4 643.63V650.78M388.4 643.63h6M388.4 650.78h6M399.54 644.06V651.18M396.54 644.06h6M396.54 651.18h6M407.68 644.67V651.77M404.68 644.67h6M404.68 651.77h6M415.83 645.41V652.49M412.83 645.41h6M412.83 652.49h6M423.97 646.69V653.75M420.97 646.69h6M420.97 653.75h6M432.12 648.4V655.45M429.12 648.4h6M429.12 655.45h6M440.26 650.08V657.13M437.26 650.08h6M437.26 657.13h6M448.4 651.89V658.93M445.4 651.89h6M445.4 658.93h6M456.55 653.82V660.86M453.55 653.82h6M453.55 660.86h6" stroke="#ebc74e" stroke-width="1.3" fill="none"/>
<g fill="#ebc74e"><circle cx="114.5" cy="853.67" r="2.9"/><circle cx="122.64" cy="829.3" r="2.9"/><circle cx="130.79" cy="817.11" r="2.9"/><circle cx="138.93" cy="808.99" r="2.9"/><circle cx="147.08" cy="800.87" r="2.9"/><circle cx="155.22" cy="791.39" r="2.9"/><circle cx="163.36" cy="780.56" r="2.9"/><circle cx="171.51" cy="768.37" r="2.9"/><circle cx="179.65" cy="753.48" r="2.9"/><circle cx="187.8" cy="738.58" r="2.9"/><circle cx="195.94" cy="725.04" r="2.9"/><circle cx="204.08" cy="711.5" r="2.9"/><circle cx="212.23" cy="697.96" r="2.9"/><circle cx="220.37" cy="684.42" r="2.9"/><circle cx="228.52" cy="672.24" r="2.9"/><circle cx="236.66" cy="661.4" r="2.9"/><circle cx="244.8" cy="654.63" r="2.9"/><circle cx="252.95" cy="650.57" r="2.9"/><circle cx="261.09" cy="647.86" r="2.9"/><circle cx="269.24" cy="647.46" r="2.9"/><circle cx="277.38" cy="647.32" r="2.9"/><circle cx="285.52" cy="647.75" r="2.9"/><circle cx="293.67" cy="648.68" r="2.9"/><circle cx="301.81" cy="649.61" r="2.9"/><circle cx="309.96" cy="650.03" r="2.9"/><circle cx="318.1" cy="650" r="2.9"/><circle cx="326.24" cy="649.93" r="2.9"/><circle cx="334.39" cy="649.81" r="2.9"/><circle cx="342.53" cy="649.65" r="2.9"/><circle cx="350.68" cy="649.45" r="2.9"/><circle cx="358.82" cy="649.22" r="2.9"/><circle cx="366.96" cy="648.55" r="2.9"/><circle cx="375.11" cy="647.56" r="2.9"/><circle cx="383.25" cy="647.05" r="2.9"/><circle cx="391.4" cy="647.2" r="2.9"/><circle cx="399.54" cy="647.62" r="2.9"/><circle cx="407.68" cy="648.22" r="2.9"/><circle cx="415.83" cy="648.95" r="2.9"/><circle cx="423.97" cy="650.22" r="2.9"/><circle cx="432.12" cy="651.93" r="2.9"/><circle cx="440.26" cy="653.61" r="2.9"/><circle cx="448.4" cy="655.41" r="2.9"/><circle cx="456.55" cy="657.34" r="2.9"/></g>
<path d="M114.5 846.9V857.73M111.5 846.9h6M111.5 857.73h6M122.64 822.18V833.71M119.64 822.18h6M119.64 833.71h6M130.79 809.67V821.85M127.79 809.67h6M127.79 821.85h6M138.93 801.23V814.04M135.93 801.23h6M135.93 814.04h6M147.08 792.83V806.2M144.08 792.83h6M144.08 806.2h6M155.22 781.74V795.62M152.22 781.74h6M152.22 795.62h6M163.36 770.69V785.01M160.36 770.69h6M160.36 785.01h6M171.51 758.33V773M168.51 758.33h6M168.51 773h6M179.65 743.3V758.24M176.65 743.3h6M176.65 758.24h6M187.8 728.32V743.43M184.8 728.32h6M184.8 743.43h6M195.94 714.75V729.92M192.94 714.75h6M192.94 729.92h6M204.08 701.21V716.38M201.08 701.21h6M201.08 716.38h6M212.23 686.32V701.48M209.23 686.32h6M209.23 701.48h6M220.37 672.78V687.94M217.37 672.78h6M217.37 687.94h6M228.52 660.59V675.76M225.52 660.59h6M225.52 675.76h6M236.66 651.11V666.28M233.66 651.11h6M233.66 666.28h6M244.8 645.7V660.86M241.8 645.7h6M241.8 660.86h6M252.95 643.54V657.6M249.95 643.54h6M249.95 657.6h6M261.09 643.4V655.04M258.09 643.4h6M258.09 655.04h6M269.24 644.61V653.83M266.24 644.61h6M266.24 653.83h6M277.38 645.16V653.28M274.38 645.16h6M274.38 653.28h6M285.52 645.37V653.49M282.52 645.37h6M282.52 653.49h6M293.67 645.83V653.96M290.67 645.83h6M290.67 653.96h6M301.81 646.3V654.42M298.81 646.3h6M298.81 654.42h6M309.96 646.51V654.63M306.96 646.51h6M306.96 654.63h6M318.1 646.48V654.6M315.1 646.48h6M315.1 654.6h6M326.24 646.4V654.52M323.24 646.4h6M323.24 654.52h6M334.39 646.27V654.39M331.39 646.27h6M331.39 654.39h6M342.53 646.11V654.23M339.53 646.11h6M339.53 654.23h6M350.68 645.91V654.04M347.68 645.91h6M347.68 654.04h6M358.82 645.7V653.82M355.82 645.7h6M355.82 653.82h6M366.96 645.25V653.37M363.96 645.25h6M363.96 653.37h6M375.11 644.65V652.77M372.11 644.65h6M372.11 652.77h6M383.25 644.34V652.47M380.25 644.34h6M380.25 652.47h6M391.4 644.47V652.59M388.4 644.47h6M388.4 652.59h6M399.54 644.81V652.93M396.54 644.81h6M396.54 652.93h6M407.68 645.32V653.45M404.68 645.32h6M404.68 653.45h6M415.83 645.97V654.09M412.83 645.97h6M412.83 654.09h6M423.97 647.32V655.45M420.97 647.32h6M420.97 655.45h6M432.12 649.22V657.34M429.12 649.22h6M429.12 657.34h6M440.26 651.06V659.19M437.26 651.06h6M437.26 659.19h6M448.4 653.05V661.17M445.4 653.05h6M445.4 661.17h6M456.55 655.18V663.3M453.55 655.18h6M453.55 663.3h6" stroke="#ef7e2a" stroke-width="1.3" fill="none"/>
<g fill="#ef7e2a"><circle cx="114.5" cy="852.32" r="2.9"/><circle cx="122.64" cy="827.95" r="2.9"/><circle cx="130.79" cy="815.76" r="2.9"/><circle cx="138.93" cy="807.64" r="2.9"/><circle cx="147.08" cy="799.51" r="2.9"/><circle cx="155.22" cy="788.68" r="2.9"/><circle cx="163.36" cy="777.85" r="2.9"/><circle cx="171.51" cy="765.66" r="2.9"/><circle cx="179.65" cy="750.77" r="2.9"/><circle cx="187.8" cy="735.87" r="2.9"/><circle cx="195.94" cy="722.33" r="2.9"/><circle cx="204.08" cy="708.79" r="2.9"/><circle cx="212.23" cy="693.9" r="2.9"/><circle cx="220.37" cy="680.36" r="2.9"/><circle cx="228.52" cy="668.17" r="2.9"/><circle cx="236.66" cy="658.7" r="2.9"/><circle cx="244.8" cy="653.28" r="2.9"/><circle cx="252.95" cy="650.57" r="2.9"/><circle cx="261.09" cy="649.22" r="2.9"/><circle cx="269.24" cy="649.22" r="2.9"/><circle cx="277.38" cy="649.22" r="2.9"/><circle cx="285.52" cy="649.43" r="2.9"/><circle cx="293.67" cy="649.89" r="2.9"/><circle cx="301.81" cy="650.36" r="2.9"/><circle cx="309.96" cy="650.57" r="2.9"/><circle cx="318.1" cy="650.54" r="2.9"/><circle cx="326.24" cy="650.46" r="2.9"/><circle cx="334.39" cy="650.33" r="2.9"/><circle cx="342.53" cy="650.17" r="2.9"/><circle cx="350.68" cy="649.97" r="2.9"/><circle cx="358.82" cy="649.76" r="2.9"/><circle cx="366.96" cy="649.31" r="2.9"/><circle cx="375.11" cy="648.71" r="2.9"/><circle cx="383.25" cy="648.41" r="2.9"/><circle cx="391.4" cy="648.53" r="2.9"/><circle cx="399.54" cy="648.87" r="2.9"/><circle cx="407.68" cy="649.38" r="2.9"/><circle cx="415.83" cy="650.03" r="2.9"/><circle cx="423.97" cy="651.39" r="2.9"/><circle cx="432.12" cy="653.28" r="2.9"/><circle cx="440.26" cy="655.12" r="2.9"/><circle cx="448.4" cy="657.11" r="2.9"/><circle cx="456.55" cy="659.24" r="2.9"/></g>
<path d="M114.5 846.09V856.92M111.5 846.09h6M111.5 856.92h6M122.64 823.08V834.43M119.64 823.08h6M119.64 834.43h6M130.79 811.19V823.04M127.79 811.19h6M127.79 823.04h6M138.93 802.83V815.15M135.93 802.83h6M135.93 815.15h6M147.08 794.5V807.23M144.08 794.5h6M144.08 807.23h6M155.22 784.83V797.95M152.22 784.83h6M152.22 797.95h6M163.36 773.83V787.28M160.36 773.83h6M160.36 787.28h6M171.51 761.51V775.23M168.51 761.51h6M168.51 775.23h6M179.65 746.52V760.43M176.65 746.52h6M176.65 760.43h6M187.8 732.92V746.96M184.8 732.92h6M184.8 746.96h6M195.94 719.36V733.44M192.94 719.36h6M192.94 733.44h6M204.08 705.82V719.9M201.08 705.82h6M201.08 719.9h6M212.23 693.63V707.71M209.23 693.63h6M209.23 707.71h6M220.37 681.44V695.52M217.37 681.44h6M217.37 695.52h6M228.52 670.61V684.69M225.52 670.61h6M225.52 684.69h6M236.66 659.78V673.86M233.66 659.78h6M233.66 673.86h6M244.8 653.01V667.09M241.8 653.01h6M241.8 667.09h6M252.95 649.29V662.69M249.95 649.29h6M249.95 662.69h6M261.09 648.41V660.32M258.09 648.41h6M258.09 660.32h6M269.24 648.06V658.48M266.24 648.06h6M266.24 658.48h6M277.38 647.86V657.61M274.38 647.86h6M274.38 657.61h6M285.52 648.03V657.78M282.52 648.03h6M282.52 657.78h6M293.67 648.41V658.15M290.67 648.41h6M290.67 658.15h6M301.81 648.78V658.53M298.81 648.78h6M298.81 658.53h6M309.96 648.95V658.7M306.96 648.95h6M306.96 658.7h6M318.1 648.93V658.68M315.1 648.93h6M315.1 658.68h6M326.24 648.88V658.63M323.24 648.88h6M323.24 658.63h6M334.39 648.8V658.55M331.39 648.8h6M331.39 658.55h6M342.53 648.69V658.44M339.53 648.69h6M339.53 658.44h6M350.68 648.56V658.31M347.68 648.56h6M347.68 658.31h6M358.82 648.41V658.15M355.82 648.41h6M355.82 658.15h6M366.96 647.98V657.73M363.96 647.98h6M363.96 657.73h6M375.11 647.37V657.12M372.11 647.37h6M372.11 657.12h6M383.25 647.05V656.8M380.25 647.05h6M380.25 656.8h6M391.4 647.18V656.92M388.4 647.18h6M388.4 656.92h6M399.54 647.49V657.24M396.54 647.49h6M396.54 657.24h6M407.68 647.93V657.68M404.68 647.93h6M404.68 657.68h6M415.83 648.41V658.15M412.83 648.41h6M412.83 658.15h6M423.97 648.97V658.72M420.97 648.97h6M420.97 658.72h6M432.12 649.76V659.51M429.12 649.76h6M429.12 659.51h6M440.26 650.9V660.65M437.26 650.9h6M437.26 660.65h6M448.4 652.46V662.21M445.4 652.46h6M445.4 662.21h6M456.55 654.36V664.11M453.55 654.36h6M453.55 664.11h6" stroke="#ff2418" stroke-width="1.3" fill="none"/>
<g fill="#ff2418"><circle cx="114.5" cy="851.51" r="2.9"/><circle cx="122.64" cy="828.76" r="2.9"/><circle cx="130.79" cy="817.11" r="2.9"/><circle cx="138.93" cy="808.99" r="2.9"/><circle cx="147.08" cy="800.87" r="2.9"/><circle cx="155.22" cy="791.39" r="2.9"/><circle cx="163.36" cy="780.56" r="2.9"/><circle cx="171.51" cy="768.37" r="2.9"/><circle cx="179.65" cy="753.48" r="2.9"/><circle cx="187.8" cy="739.94" r="2.9"/><circle cx="195.94" cy="726.4" r="2.9"/><circle cx="204.08" cy="712.86" r="2.9"/><circle cx="212.23" cy="700.67" r="2.9"/><circle cx="220.37" cy="688.48" r="2.9"/><circle cx="228.52" cy="677.65" r="2.9"/><circle cx="236.66" cy="666.82" r="2.9"/><circle cx="244.8" cy="660.05" r="2.9"/><circle cx="252.95" cy="655.99" r="2.9"/><circle cx="261.09" cy="654.36" r="2.9"/><circle cx="269.24" cy="653.27" r="2.9"/><circle cx="277.38" cy="652.74" r="2.9"/><circle cx="285.52" cy="652.91" r="2.9"/><circle cx="293.67" cy="653.28" r="2.9"/><circle cx="301.81" cy="653.65" r="2.9"/><circle cx="309.96" cy="653.82" r="2.9"/><circle cx="318.1" cy="653.8" r="2.9"/><circle cx="326.24" cy="653.75" r="2.9"/><circle cx="334.39" cy="653.67" r="2.9"/><circle cx="342.53" cy="653.56" r="2.9"/><circle cx="350.68" cy="653.43" r="2.9"/><circle cx="358.82" cy="653.28" r="2.9"/><circle cx="366.96" cy="652.86" r="2.9"/><circle cx="375.11" cy="652.24" r="2.9"/><circle cx="383.25" cy="651.93" r="2.9"/><circle cx="391.4" cy="652.05" r="2.9"/><circle cx="399.54" cy="652.37" r="2.9"/><circle cx="407.68" cy="652.8" r="2.9"/><circle cx="415.83" cy="653.28" r="2.9"/><circle cx="423.97" cy="653.85" r="2.9"/><circle cx="432.12" cy="654.63" r="2.9"/><circle cx="440.26" cy="655.78" r="2.9"/><circle cx="448.4" cy="657.34" r="2.9"/><circle cx="456.55" cy="659.24" r="2.9"/></g>
<path d="M114.5 850.96V861.8M111.5 850.96h6M111.5 861.8h6M122.64 825.07V836.24M119.64 825.07h6M119.64 836.24h6M130.79 812.71V824.22M127.79 812.71h6M127.79 824.22h6M138.93 804.44V816.25M135.93 804.44h6M135.93 816.25h6M147.08 796.17V808.27M144.08 796.17h6M144.08 808.27h6M155.22 786.56V798.92M152.22 786.56h6M152.22 798.92h6M163.36 776.98V789.55M160.36 776.98h6M160.36 789.55h6M171.51 764.7V777.45M168.51 764.7h6M168.51 777.45h6M179.65 749.74V762.63M176.65 749.74h6M176.65 762.63h6M187.8 734.81V747.77M184.8 734.81h6M184.8 747.77h6M195.94 721.25V734.25M192.94 721.25h6M192.94 734.25h6M204.08 707.71V720.71M201.08 707.71h6M201.08 720.71h6M212.23 692.82V705.82M209.23 692.82h6M209.23 705.82h6M220.37 679.28V692.28M217.37 679.28h6M217.37 692.28h6M228.52 665.74V678.74M225.52 665.74h6M225.52 678.74h6M236.66 654.9V667.9M233.66 654.9h6M233.66 667.9h6M244.8 645.43V658.43M241.8 645.43h6M241.8 658.43h6M252.95 640.3V652.72M249.95 640.3h6M249.95 652.72h6M261.09 638.25V649.35M258.09 638.25h6M258.09 649.35h6M269.24 635.73V645.38M266.24 635.73h6M266.24 645.38h6M277.38 635.68V644.34M274.38 635.68h6M274.38 644.34h6M285.52 636.48V644.62M282.52 636.48h6M282.52 644.62h6M293.67 637.28V644.91M290.67 637.28h6M290.67 644.91h6M301.81 638.86V646.03M298.81 638.86h6M298.81 646.03h6M309.96 641.24V647.99M306.96 641.24h6M306.96 647.99h6M318.1 641.97V648.34M315.1 641.97h6M315.1 648.34h6M326.24 644.57V650.61M323.24 644.57h6M323.24 650.61h6M334.39 644.16V649.94M331.39 644.16h6M331.39 649.94h6M342.53 645.34V650.93M339.53 645.34h6M339.53 650.93h6M350.68 646.61V652.07M347.68 646.61h6M347.68 652.07h6M358.82 647.32V652.74M355.82 647.32h6M355.82 652.74h6M366.96 646.76V652.18M363.96 646.76h6M363.96 652.18h6M375.11 645.72V651.13M372.11 645.72h6M372.11 651.13h6M383.25 645.16V650.57M380.25 645.16h6M380.25 650.57h6M391.4 645.72V651.13M388.4 645.72h6M388.4 651.13h6M399.54 646.76V652.18M396.54 646.76h6M396.54 652.18h6M407.68 647.32V652.74M404.68 647.32h6M404.68 652.74h6M415.83 647.32V652.74M412.83 647.32h6M412.83 652.74h6M423.97 647.32V652.74M420.97 647.32h6M420.97 652.74h6M432.12 648.95V654.36M429.12 648.95h6M429.12 654.36h6M440.26 650.57V655.99M437.26 650.57h6M437.26 655.99h6M448.4 651.7V657.12M445.4 651.7h6M445.4 657.12h6M456.55 652.47V657.88M453.55 652.47h6M453.55 657.88h6" stroke="#1f7f2c" stroke-width="1.3" fill="none"/>
<g fill="#1f7f2c"><circle cx="114.5" cy="856.38" r="2.9"/><circle cx="122.64" cy="830.65" r="2.9"/><circle cx="130.79" cy="818.47" r="2.9"/><circle cx="138.93" cy="810.34" r="2.9"/><circle cx="147.08" cy="802.22" r="2.9"/><circle cx="155.22" cy="792.74" r="2.9"/><circle cx="163.36" cy="783.26" r="2.9"/><circle cx="171.51" cy="771.08" r="2.9"/><circle cx="179.65" cy="756.18" r="2.9"/><circle cx="187.8" cy="741.29" r="2.9"/><circle cx="195.94" cy="727.75" r="2.9"/><circle cx="204.08" cy="714.21" r="2.9"/><circle cx="212.23" cy="699.32" r="2.9"/><circle cx="220.37" cy="685.78" r="2.9"/><circle cx="228.52" cy="672.24" r="2.9"/><circle cx="236.66" cy="661.4" r="2.9"/><circle cx="244.8" cy="651.93" r="2.9"/><circle cx="252.95" cy="646.51" r="2.9"/><circle cx="261.09" cy="643.8" r="2.9"/><circle cx="269.24" cy="640.55" r="2.9"/><circle cx="277.38" cy="640.01" r="2.9"/><circle cx="285.52" cy="640.55" r="2.9"/><circle cx="293.67" cy="641.09" r="2.9"/><circle cx="301.81" cy="642.45" r="2.9"/><circle cx="309.96" cy="644.61" r="2.9"/><circle cx="318.1" cy="645.16" r="2.9"/><circle cx="326.24" cy="647.59" r="2.9"/><circle cx="334.39" cy="647.05" r="2.9"/><circle cx="342.53" cy="648.13" r="2.9"/><circle cx="350.68" cy="649.34" r="2.9"/><circle cx="358.82" cy="650.03" r="2.9"/><circle cx="366.96" cy="649.47" r="2.9"/><circle cx="375.11" cy="648.43" r="2.9"/><circle cx="383.25" cy="647.86" r="2.9"/><circle cx="391.4" cy="648.43" r="2.9"/><circle cx="399.54" cy="649.47" r="2.9"/><circle cx="407.68" cy="650.03" r="2.9"/><circle cx="415.83" cy="650.03" r="2.9"/><circle cx="423.97" cy="650.03" r="2.9"/><circle cx="432.12" cy="651.66" r="2.9"/><circle cx="440.26" cy="653.28" r="2.9"/><circle cx="448.4" cy="654.41" r="2.9"/><circle cx="456.55" cy="655.18" r="2.9"/></g>
<path d="M114.5 850.15V859.9M111.5 850.15h6M111.5 859.9h6M122.64 827.6V838.04M119.64 827.6h6M119.64 838.04h6M130.79 816.17V827.27M127.79 816.17h6M127.79 827.27h6M138.93 809.36V821.08M135.93 809.36h6M135.93 821.08h6M147.08 802.58V814.86M144.08 802.58h6M144.08 814.86h6M155.22 792.3V805.1M152.22 792.3h6M152.22 805.1h6M163.36 783.15V796.38M160.36 783.15h6M160.36 796.38h6M171.51 771.87V785.46M168.51 771.87h6M168.51 785.46h6M179.65 758.46V772.32M176.65 758.46h6M176.65 772.32h6M187.8 741.59V755.61M184.8 741.59h6M184.8 755.61h6M195.94 728.56V742.64M192.94 728.56h6M192.94 742.64h6M204.08 715.56V729.65M201.08 715.56h6M201.08 729.65h6M212.23 701.75V715.83M209.23 701.75h6M209.23 715.83h6M220.37 687.94V702.02M217.37 687.94h6M217.37 702.02h6M228.52 676.03V690.11M225.52 676.03h6M225.52 690.11h6M236.66 665.2V679.28M233.66 665.2h6M233.66 679.28h6M244.8 654.63V668.72M241.8 654.63h6M241.8 668.72h6M252.95 648.17V661.09M249.95 648.17h6M249.95 661.09h6M261.09 645.53V655.88M258.09 645.53h6M258.09 655.88h6M269.24 644.26V652.01M266.24 644.26h6M266.24 652.01h6M277.38 644.34V650.84M274.38 644.34h6M274.38 650.84h6M285.52 644.4V650.78M282.52 644.4h6M282.52 650.78h6M293.67 645.54V651.81M290.67 645.54h6M290.67 651.81h6M301.81 645.05V651.22M298.81 645.05h6M298.81 651.22h6M309.96 648.08V654.15M306.96 648.08h6M306.96 654.15h6M318.1 647.31V653.3M315.1 647.31h6M315.1 653.3h6M326.24 648.16V654.07M323.24 648.16h6M323.24 654.07h6M334.39 648.74V654.58M331.39 648.74h6M331.39 654.58h6M342.53 648.23V654M339.53 648.23h6M339.53 654h6M350.68 648.25V653.97M347.68 648.25h6M347.68 653.97h6M358.82 648.01V653.68M355.82 648.01h6M355.82 653.68h6M366.96 646.95V652.57M363.96 646.95h6M363.96 652.57h6M375.11 645.89V651.47M372.11 645.89h6M372.11 651.47h6M383.25 645.36V650.91M380.25 645.36h6M380.25 650.91h6M391.4 646.73V652.25M388.4 646.73h6M388.4 652.25h6M399.54 646.74V652.23M396.54 646.74h6M396.54 652.23h6M407.68 647.57V653.03M404.68 647.57h6M404.68 653.03h6M415.83 647.58V653.03M412.83 647.58h6M412.83 653.03h6M423.97 647.04V652.48M420.97 647.04h6M420.97 652.48h6M432.12 649.48V654.91M429.12 649.48h6M429.12 654.91h6M440.26 651.38V656.8M437.26 651.38h6M437.26 656.8h6M448.4 651.93V657.34M445.4 651.93h6M445.4 657.34h6M456.55 653.55V658.97M453.55 653.55h6M453.55 658.97h6" stroke="#000000" stroke-width="1.3" fill="none"/>
<g fill="none" stroke="#000000" stroke-width="1.7"><circle cx="114.5" cy="855.03" r="2.9"/><circle cx="122.64" cy="832.82" r="2.9"/><circle cx="130.79" cy="821.72" r="2.9"/><circle cx="138.93" cy="815.22" r="2.9"/><circle cx="147.08" cy="808.72" r="2.9"/><circle cx="155.22" cy="798.7" r="2.9"/><circle cx="163.36" cy="789.76" r="2.9"/><circle cx="171.51" cy="778.66" r="2.9"/><circle cx="179.65" cy="765.39" r="2.9"/><circle cx="187.8" cy="748.6" r="2.9"/><circle cx="195.94" cy="735.6" r="2.9"/><circle cx="204.08" cy="722.6" r="2.9"/><circle cx="212.23" cy="708.79" r="2.9"/><circle cx="220.37" cy="694.98" r="2.9"/><circle cx="228.52" cy="683.07" r="2.9"/><circle cx="236.66" cy="672.24" r="2.9"/><circle cx="244.8" cy="661.67" r="2.9"/><circle cx="252.95" cy="654.63" r="2.9"/><circle cx="261.09" cy="650.71" r="2.9"/><circle cx="269.24" cy="648.13" r="2.9"/><circle cx="277.38" cy="647.59" r="2.9"/><circle cx="285.52" cy="647.59" r="2.9"/><circle cx="293.67" cy="648.68" r="2.9"/><circle cx="301.81" cy="648.13" r="2.9"/><circle cx="309.96" cy="651.11" r="2.9"/><circle cx="318.1" cy="650.3" r="2.9"/><circle cx="326.24" cy="651.11" r="2.9"/><circle cx="334.39" cy="651.66" r="2.9"/><circle cx="342.53" cy="651.11" r="2.9"/><circle cx="350.68" cy="651.11" r="2.9"/><circle cx="358.82" cy="650.84" r="2.9"/><circle cx="366.96" cy="649.76" r="2.9"/><circle cx="375.11" cy="648.68" r="2.9"/><circle cx="383.25" cy="648.13" r="2.9"/><circle cx="391.4" cy="649.49" r="2.9"/><circle cx="399.54" cy="649.49" r="2.9"/><circle cx="407.68" cy="650.3" r="2.9"/><circle cx="415.83" cy="650.3" r="2.9"/><circle cx="423.97" cy="649.76" r="2.9"/><circle cx="432.12" cy="652.2" r="2.9"/><circle cx="440.26" cy="654.09" r="2.9"/><circle cx="448.4" cy="654.63" r="2.9"/><circle cx="456.55" cy="656.26" r="2.9"/></g>
<path d="M807.5 876.59V879.82M804.5 876.59h6M804.5 879.82h6M815.57 875.81V879.35M812.57 875.81h6M812.57 879.35h6M823.63 875.03V878.87M820.63 875.03h6M820.63 878.87h6M831.7 873.44V877.6M828.7 873.44h6M828.7 877.6h6M839.76 872.12V876.59M836.76 872.12h6M836.76 876.59h6M847.83 870.53V875.31M844.83 870.53h6M844.83 875.31h6M855.9 868.94V874.04M852.9 868.94h6M852.9 874.04h6M863.96 866.8V872.22M860.96 866.8h6M860.96 872.22h6M872.03 865.21V870.95M869.03 865.21h6M869.03 870.95h6M880.09 863.07V869.14M877.09 863.07h6M877.09 869.14h6M888.16 859.59V865.99M885.16 859.59h6M885.16 865.99h6M896.23 855.71V862.43M893.23 855.71h6M893.23 862.43h6M904.29 852.9V859.96M901.29 852.9h6M901.29 859.96h6M912.36 849.15V856.54M909.36 849.15h6M909.36 856.54h6M920.42 844.32V852.05M917.42 844.32h6M917.42 852.05h6M928.49 838.95V847.02M925.49 838.95h6M925.49 847.02h6M936.56 833.85V842.28M933.56 833.85h6M933.56 842.28h6M944.62 828.21V837.05M941.62 828.21h6M941.62 837.05h6M952.69 822.3V831.57M949.69 822.3h6M949.69 831.57h6M960.75 815.57V825.32M957.75 815.57h6M957.75 825.32h6M968.82 808.58V818.8M965.82 808.58h6M965.82 818.8h6M976.89 801.19V811.88M973.89 801.19h6M973.89 811.88h6M984.95 794.6V805.76M981.95 794.6h6M981.95 805.76h6M993.02 787.34V798.95M990.02 787.34h6M990.02 798.95h6M1001.08 779.54V791.58M998.08 779.54h6M998.08 791.58h6M1009.15 772.68V785.1M1006.15 772.68h6M1006.15 785.1h6M1017.22 766.08V778.85M1014.22 766.08h6M1014.22 778.85h6M1025.28 759.09V772.14M1022.28 759.09h6M1022.28 772.14h6M1033.35 751.83V765.09M1030.35 751.83h6M1030.35 765.09h6M1041.41 746.45V759.85M1038.41 746.45h6M1038.41 759.85h6M1049.48 738.65V752.09M1046.48 738.65h6M1046.48 752.09h6M1057.55 732.05V745.5M1054.55 732.05h6M1054.55 745.5h6M1065.61 724.9V738.35M1062.61 724.9h6M1062.61 738.35h6M1073.68 718.68V732.12M1070.68 718.68h6M1070.68 732.12h6M1081.74 711.36V724.8M1078.74 711.36h6M1078.74 724.8h6M1089.81 705.63V719.08M1086.81 705.63h6M1086.81 719.08h6M1097.88 701.23V714.68M1094.88 701.23h6M1094.88 714.68h6M1105.94 695.47V708.91M1102.94 695.47h6M1102.94 708.91h6M1114.01 691.02V704.47M1111.01 691.02h6M1111.01 704.47h6M1122.07 687.64V701.08M1119.07 687.64h6M1119.07 701.08h6M1130.14 684.23V697.67M1127.14 684.23h6M1127.14 697.67h6M1138.21 681.87V695.32M1135.21 681.87h6M1135.21 695.32h6M1146.27 679.76V693.2M1143.27 679.76h6M1143.27 693.2h6" stroke="#ebc74e" stroke-width="1.3" fill="none"/>
<g fill="#ebc74e"><circle cx="807.5" cy="878.21" r="2.9"/><circle cx="815.57" cy="877.58" r="2.9"/><circle cx="823.63" cy="876.95" r="2.9"/><circle cx="831.7" cy="875.52" r="2.9"/><circle cx="839.76" cy="874.35" r="2.9"/><circle cx="847.83" cy="872.92" r="2.9"/><circle cx="855.9" cy="871.49" r="2.9"/><circle cx="863.96" cy="869.51" r="2.9"/><circle cx="872.03" cy="868.08" r="2.9"/><circle cx="880.09" cy="866.11" r="2.9"/><circle cx="888.16" cy="862.79" r="2.9"/><circle cx="896.23" cy="859.07" r="2.9"/><circle cx="904.29" cy="856.43" r="2.9"/><circle cx="912.36" cy="852.84" r="2.9"/><circle cx="920.42" cy="848.18" r="2.9"/><circle cx="928.49" cy="842.98" r="2.9"/><circle cx="936.56" cy="838.06" r="2.9"/><circle cx="944.62" cy="832.63" r="2.9"/><circle cx="952.69" cy="826.93" r="2.9"/><circle cx="960.75" cy="820.45" r="2.9"/><circle cx="968.82" cy="813.69" r="2.9"/><circle cx="976.89" cy="806.54" r="2.9"/><circle cx="984.95" cy="800.18" r="2.9"/><circle cx="993.02" cy="793.14" r="2.9"/><circle cx="1001.08" cy="785.56" r="2.9"/><circle cx="1009.15" cy="778.89" r="2.9"/><circle cx="1017.22" cy="772.47" r="2.9"/><circle cx="1025.28" cy="765.61" r="2.9"/><circle cx="1033.35" cy="758.46" r="2.9"/><circle cx="1041.41" cy="753.15" r="2.9"/><circle cx="1049.48" cy="745.37" r="2.9"/><circle cx="1057.55" cy="738.78" r="2.9"/><circle cx="1065.61" cy="731.63" r="2.9"/><circle cx="1073.68" cy="725.4" r="2.9"/><circle cx="1081.74" cy="718.08" r="2.9"/><circle cx="1089.81" cy="712.35" r="2.9"/><circle cx="1097.88" cy="707.95" r="2.9"/><circle cx="1105.94" cy="702.19" r="2.9"/><circle cx="1114.01" cy="697.75" r="2.9"/><circle cx="1122.07" cy="694.36" r="2.9"/><circle cx="1130.14" cy="690.95" r="2.9"/><circle cx="1138.21" cy="688.59" r="2.9"/><circle cx="1146.27" cy="686.48" r="2.9"/></g>
<path d="M807.5 876.59V879.82M804.5 876.59h6M804.5 879.82h6M815.57 875.72V879.25M812.57 875.72h6M812.57 879.25h6M823.63 874.84V878.68M820.63 874.84h6M820.63 878.68h6M831.7 873.15V877.3M828.7 873.15h6M828.7 877.3h6M839.76 871.72V876.19M836.76 871.72h6M836.76 876.19h6M847.83 870.03V874.81M844.83 870.03h6M844.83 874.81h6M855.9 868.33V873.43M852.9 868.33h6M852.9 873.43h6M863.96 866.09V871.51M860.96 866.09h6M860.96 871.51h6M872.03 864.39V870.13M869.03 864.39h6M869.03 870.13h6M880.09 862.15V868.22M877.09 862.15h6M877.09 868.22h6M888.16 858.56V864.95M885.16 858.56h6M885.16 864.95h6M896.23 854.56V861.29M893.23 854.56h6M893.23 861.29h6M904.29 851.64V858.7M901.29 851.64h6M901.29 858.7h6M912.36 847.77V855.16M909.36 847.77h6M909.36 855.16h6M920.42 842.82V850.55M917.42 842.82h6M917.42 850.55h6M928.49 837.34V845.4M925.49 837.34h6M925.49 845.4h6M936.56 832.1V840.53M933.56 832.1h6M933.56 840.53h6M944.62 826.31V835.15M941.62 826.31h6M941.62 835.15h6M952.69 820.23V829.5M949.69 820.23h6M949.69 829.5h6M960.75 813.32V823.07M957.75 813.32h6M957.75 823.07h6M968.82 806.14V816.36M965.82 806.14h6M965.82 816.36h6M976.89 798.56V809.25M973.89 798.56h6M973.89 809.25h6M984.95 791.78V802.95M981.95 791.78h6M981.95 802.95h6M993.02 784.34V795.96M990.02 784.34h6M990.02 795.96h6M1001.08 776.38V788.42M998.08 776.38h6M998.08 788.42h6M1009.15 769.37V781.8M1006.15 769.37h6M1006.15 781.8h6M1017.22 762.66V775.42M1014.22 762.66h6M1014.22 775.42h6M1025.28 755.57V768.62M1022.28 755.57h6M1022.28 768.62h6M1033.35 748.24V761.5M1030.35 748.24h6M1030.35 761.5h6M1041.41 742.84V756.23M1038.41 742.84h6M1038.41 756.23h6M1049.48 735.05V748.5M1046.48 735.05h6M1046.48 748.5h6M1057.55 728.51V741.95M1054.55 728.51h6M1054.55 741.95h6M1065.61 721.42V734.86M1062.61 721.42h6M1062.61 734.86h6M1073.68 715.27V728.71M1070.68 715.27h6M1070.68 728.71h6M1081.74 708.04V721.49M1078.74 708.04h6M1078.74 721.49h6M1089.81 702.43V715.87M1086.81 702.43h6M1086.81 715.87h6M1097.88 698.16V711.6M1094.88 698.16h6M1094.88 711.6h6M1105.94 692.54V705.99M1102.94 692.54h6M1102.94 705.99h6M1114.01 688.27V701.71M1111.01 688.27h6M1111.01 701.71h6M1122.07 685.07V698.51M1119.07 685.07h6M1119.07 698.51h6M1130.14 681.87V695.31M1127.14 681.87h6M1127.14 695.31h6M1138.21 679.74V693.18M1135.21 679.74h6M1135.21 693.18h6M1146.27 677.88V691.32M1143.27 677.88h6M1143.27 691.32h6" stroke="#ef7e2a" stroke-width="1.3" fill="none"/>
<g fill="#ef7e2a"><circle cx="807.5" cy="878.21" r="2.9"/><circle cx="815.57" cy="877.48" r="2.9"/><circle cx="823.63" cy="876.76" r="2.9"/><circle cx="831.7" cy="875.22" r="2.9"/><circle cx="839.76" cy="873.96" r="2.9"/><circle cx="847.83" cy="872.42" r="2.9"/><circle cx="855.9" cy="870.88" r="2.9"/><circle cx="863.96" cy="868.8" r="2.9"/><circle cx="872.03" cy="867.26" r="2.9"/><circle cx="880.09" cy="865.18" r="2.9"/><circle cx="888.16" cy="861.76" r="2.9"/><circle cx="896.23" cy="857.92" r="2.9"/><circle cx="904.29" cy="855.17" r="2.9"/><circle cx="912.36" cy="851.47" r="2.9"/><circle cx="920.42" cy="846.69" r="2.9"/><circle cx="928.49" cy="841.37" r="2.9"/><circle cx="936.56" cy="836.32" r="2.9"/><circle cx="944.62" cy="830.73" r="2.9"/><circle cx="952.69" cy="824.87" r="2.9"/><circle cx="960.75" cy="818.19" r="2.9"/><circle cx="968.82" cy="811.25" r="2.9"/><circle cx="976.89" cy="803.9" r="2.9"/><circle cx="984.95" cy="797.36" r="2.9"/><circle cx="993.02" cy="790.15" r="2.9"/><circle cx="1001.08" cy="782.4" r="2.9"/><circle cx="1009.15" cy="775.58" r="2.9"/><circle cx="1017.22" cy="769.04" r="2.9"/><circle cx="1025.28" cy="762.09" r="2.9"/><circle cx="1033.35" cy="754.87" r="2.9"/><circle cx="1041.41" cy="749.54" r="2.9"/><circle cx="1049.48" cy="741.78" r="2.9"/><circle cx="1057.55" cy="735.23" r="2.9"/><circle cx="1065.61" cy="728.14" r="2.9"/><circle cx="1073.68" cy="721.99" r="2.9"/><circle cx="1081.74" cy="714.76" r="2.9"/><circle cx="1089.81" cy="709.15" r="2.9"/><circle cx="1097.88" cy="704.88" r="2.9"/><circle cx="1105.94" cy="699.26" r="2.9"/><circle cx="1114.01" cy="694.99" r="2.9"/><circle cx="1122.07" cy="691.79" r="2.9"/><circle cx="1130.14" cy="688.59" r="2.9"/><circle cx="1138.21" cy="686.46" r="2.9"/><circle cx="1146.27" cy="684.6" r="2.9"/></g>
<path d="M807.5 876.59V879.82M804.5 876.59h6M804.5 879.82h6M815.57 875.63V879.25M812.57 875.63h6M812.57 879.25h6M823.63 874.71V878.71M820.63 874.71h6M820.63 878.71h6M831.7 873.02V877.4M828.7 873.02h6M828.7 877.4h6M839.76 871.63V876.38M836.76 871.63h6M836.76 876.38h6M847.83 870.01V875.11M844.83 870.01h6M844.83 875.11h6M855.9 868.41V873.86M852.9 868.41h6M852.9 873.86h6M863.96 866.29V872.08M860.96 866.29h6M860.96 872.08h6M872.03 864.74V870.85M869.03 864.74h6M869.03 870.85h6M880.09 862.66V869.09M877.09 862.66h6M877.09 869.09h6M888.16 859.24V865.98M885.16 859.24h6M885.16 865.98h6M896.23 855.48V862.52M893.23 855.48h6M893.23 862.52h6M904.29 852.89V860.2M901.29 852.89h6M901.29 860.2h6M912.36 849.4V856.98M909.36 849.4h6M909.36 856.98h6M920.42 844.85V852.68M917.42 844.85h6M917.42 852.68h6M928.49 839.76V847.82M925.49 839.76h6M925.49 847.82h6M936.56 834.91V843.21M933.56 834.91h6M933.56 843.21h6M944.62 829.53V838.07M941.62 829.53h6M941.62 838.07h6M952.69 823.87V832.66M949.69 823.87h6M949.69 832.66h6M960.75 817.4V826.44M957.75 817.4h6M957.75 826.44h6M968.82 810.65V819.92M965.82 810.65h6M965.82 819.92h6M976.89 803.48V813M973.89 803.48h6M973.89 813h6M984.95 797.13V806.86M981.95 797.13h6M981.95 806.86h6M993.02 790.1V800.04M990.02 790.1h6M990.02 800.04h6M1001.08 782.51V792.65M998.08 782.51h6M998.08 792.65h6M1009.15 775.84V786.16M1006.15 775.84h6M1006.15 786.16h6M1017.22 769.42V779.89M1014.22 769.42h6M1014.22 779.89h6M1025.28 762.59V773.17M1022.28 762.59h6M1022.28 773.17h6M1033.35 755.48V766.16M1030.35 755.48h6M1030.35 766.16h6M1041.41 750.28V761.01M1038.41 750.28h6M1038.41 761.01h6M1049.48 742.68V753.44M1046.48 742.68h6M1046.48 753.44h6M1057.55 736.29V747.03M1054.55 736.29h6M1054.55 747.03h6M1065.61 729.34V740.01M1062.61 729.34h6M1062.61 740.01h6M1073.68 723.34V733.91M1070.68 723.34h6M1070.68 733.91h6M1081.74 716.31V726.73M1078.74 716.31h6M1078.74 726.73h6M1089.81 710.98V721.21M1086.81 710.98h6M1086.81 721.21h6M1097.88 707.11V717.12M1094.88 707.11h6M1094.88 717.12h6M1105.94 702.04V711.8M1102.94 702.04h6M1102.94 711.8h6M1114.01 700.3V709.78M1111.01 700.3h6M1111.01 709.78h6M1122.07 697.51V706.68M1119.07 697.51h6M1119.07 706.68h6M1130.14 694.71V703.53M1127.14 694.71h6M1127.14 703.53h6M1138.21 693.9V702.36M1135.21 693.9h6M1135.21 702.36h6M1146.27 694.28V702.35M1143.27 694.28h6M1143.27 702.35h6" stroke="#ff2418" stroke-width="1.3" fill="none"/>
<g fill="#ff2418"><circle cx="807.5" cy="878.21" r="2.9"/><circle cx="815.57" cy="877.44" r="2.9"/><circle cx="823.63" cy="876.71" r="2.9"/><circle cx="831.7" cy="875.21" r="2.9"/><circle cx="839.76" cy="874" r="2.9"/><circle cx="847.83" cy="872.56" r="2.9"/><circle cx="855.9" cy="871.13" r="2.9"/><circle cx="863.96" cy="869.19" r="2.9"/><circle cx="872.03" cy="867.79" r="2.9"/><circle cx="880.09" cy="865.87" r="2.9"/><circle cx="888.16" cy="862.61" r="2.9"/><circle cx="896.23" cy="859" r="2.9"/><circle cx="904.29" cy="856.54" r="2.9"/><circle cx="912.36" cy="853.19" r="2.9"/><circle cx="920.42" cy="848.77" r="2.9"/><circle cx="928.49" cy="843.79" r="2.9"/><circle cx="936.56" cy="839.06" r="2.9"/><circle cx="944.62" cy="833.8" r="2.9"/><circle cx="952.69" cy="828.27" r="2.9"/><circle cx="960.75" cy="821.92" r="2.9"/><circle cx="968.82" cy="815.29" r="2.9"/><circle cx="976.89" cy="808.24" r="2.9"/><circle cx="984.95" cy="802" r="2.9"/><circle cx="993.02" cy="795.07" r="2.9"/><circle cx="1001.08" cy="787.58" r="2.9"/><circle cx="1009.15" cy="781" r="2.9"/><circle cx="1017.22" cy="774.65" r="2.9"/><circle cx="1025.28" cy="767.88" r="2.9"/><circle cx="1033.35" cy="760.82" r="2.9"/><circle cx="1041.41" cy="755.65" r="2.9"/><circle cx="1049.48" cy="748.06" r="2.9"/><circle cx="1057.55" cy="741.66" r="2.9"/><circle cx="1065.61" cy="734.68" r="2.9"/><circle cx="1073.68" cy="728.62" r="2.9"/><circle cx="1081.74" cy="721.52" r="2.9"/><circle cx="1089.81" cy="716.1" r="2.9"/><circle cx="1097.88" cy="712.11" r="2.9"/><circle cx="1105.94" cy="706.92" r="2.9"/><circle cx="1114.01" cy="705.04" r="2.9"/><circle cx="1122.07" cy="702.1" r="2.9"/><circle cx="1130.14" cy="699.12" r="2.9"/><circle cx="1138.21" cy="698.13" r="2.9"/><circle cx="1146.27" cy="698.31" r="2.9"/></g>
<path d="M807.5 876.86V880.63M804.5 876.86h6M804.5 880.63h6M815.57 876.06V879.88M812.57 876.06h6M812.57 879.88h6M823.63 875.26V879.24M820.63 875.26h6M820.63 879.24h6M831.7 873.66V877.9M828.7 873.66h6M828.7 877.9h6M839.76 872.33V876.91M836.76 872.33h6M836.76 876.91h6M847.83 870.73V875.74M844.83 870.73h6M844.83 875.74h6M855.9 869.12V874.63M852.9 869.12h6M852.9 874.63h6M863.96 866.97V873.04M860.96 866.97h6M860.96 873.04h6M872.03 865.35V872.04M869.03 865.35h6M869.03 872.04h6M880.09 863.18V870.54M877.09 863.18h6M877.09 870.54h6M888.16 859.65V867.72M885.16 859.65h6M885.16 867.72h6M896.23 855.63V864.92M893.23 855.63h6M893.23 864.92h6M904.29 852.55V863.74M901.29 852.55h6M901.29 863.74h6M912.36 848.46V861.74M909.36 848.46h6M909.36 861.74h6M920.42 843.28V858.37M917.42 843.28h6M917.42 858.37h6M928.49 837.6V853.74M925.49 837.6h6M925.49 853.74h6M936.56 832.28V848.85M933.56 832.28h6M933.56 848.85h6M944.62 826.47V843.36M941.62 826.47h6M941.62 843.36h6M952.69 820.44V837.56M949.69 820.44h6M949.69 837.56h6M960.75 813.63V830.93M957.75 813.63h6M957.75 830.93h6M968.82 806.56V824.01M965.82 806.56h6M965.82 824.01h6M976.89 799.09V816.69M973.89 799.09h6M973.89 816.69h6M984.95 792.41V810.2M981.95 792.41h6M981.95 810.2h6M993.02 785.03V803.06M990.02 785.03h6M990.02 803.06h6M1001.08 777.06V795.43M998.08 777.06h6M998.08 795.43h6M1009.15 769.07V787.89M1006.15 769.07h6M1006.15 787.89h6M1017.22 759.77V779.83M1014.22 759.77h6M1014.22 779.83h6M1025.28 749.26V771.6M1022.28 749.26h6M1022.28 771.6h6M1033.35 737.84V762.92M1030.35 737.84h6M1030.35 762.92h6M1041.41 727.93V755.62M1038.41 727.93h6M1038.41 755.62h6M1049.48 716.6V746.18M1046.48 716.6h6M1046.48 746.18h6M1057.55 707.93V738.85M1054.55 707.93h6M1054.55 738.85h6M1065.61 698.6V730.83M1062.61 698.6h6M1062.61 730.83h6M1073.68 688.28V721.79M1070.68 688.28h6M1070.68 721.79h6M1081.74 679.33V714.07M1078.74 679.33h6M1078.74 714.07h6M1089.81 673.11V709M1086.81 673.11h6M1086.81 709h6M1097.88 668.27V705.23M1094.88 668.27h6M1094.88 705.23h6M1105.94 662.15V700.05M1102.94 662.15h6M1102.94 700.05h6M1114.01 658.23V696.95M1111.01 658.23h6M1111.01 696.95h6M1122.07 655.76V695.15M1119.07 655.76h6M1119.07 695.15h6M1130.14 652.87V692.77M1127.14 652.87h6M1127.14 692.77h6M1138.21 651.04V691.25M1135.21 651.04h6M1135.21 691.25h6M1146.27 649.37V689.71M1143.27 649.37h6M1143.27 689.71h6" stroke="#1f7f2c" stroke-width="1.3" fill="none"/>
<g fill="#1f7f2c"><circle cx="807.5" cy="878.75" r="2.9"/><circle cx="815.57" cy="877.97" r="2.9"/><circle cx="823.63" cy="877.25" r="2.9"/><circle cx="831.7" cy="875.78" r="2.9"/><circle cx="839.76" cy="874.62" r="2.9"/><circle cx="847.83" cy="873.23" r="2.9"/><circle cx="855.9" cy="871.88" r="2.9"/><circle cx="863.96" cy="870.01" r="2.9"/><circle cx="872.03" cy="868.7" r="2.9"/><circle cx="880.09" cy="866.86" r="2.9"/><circle cx="888.16" cy="863.69" r="2.9"/><circle cx="896.23" cy="860.27" r="2.9"/><circle cx="904.29" cy="858.14" r="2.9"/><circle cx="912.36" cy="855.1" r="2.9"/><circle cx="920.42" cy="850.82" r="2.9"/><circle cx="928.49" cy="845.67" r="2.9"/><circle cx="936.56" cy="840.56" r="2.9"/><circle cx="944.62" cy="834.92" r="2.9"/><circle cx="952.69" cy="829" r="2.9"/><circle cx="960.75" cy="822.28" r="2.9"/><circle cx="968.82" cy="815.29" r="2.9"/><circle cx="976.89" cy="807.89" r="2.9"/><circle cx="984.95" cy="801.3" r="2.9"/><circle cx="993.02" cy="794.04" r="2.9"/><circle cx="1001.08" cy="786.24" r="2.9"/><circle cx="1009.15" cy="778.48" r="2.9"/><circle cx="1017.22" cy="769.8" r="2.9"/><circle cx="1025.28" cy="760.43" r="2.9"/><circle cx="1033.35" cy="750.38" r="2.9"/><circle cx="1041.41" cy="741.78" r="2.9"/><circle cx="1049.48" cy="731.39" r="2.9"/><circle cx="1057.55" cy="723.39" r="2.9"/><circle cx="1065.61" cy="714.72" r="2.9"/><circle cx="1073.68" cy="705.04" r="2.9"/><circle cx="1081.74" cy="696.7" r="2.9"/><circle cx="1089.81" cy="691.05" r="2.9"/><circle cx="1097.88" cy="686.75" r="2.9"/><circle cx="1105.94" cy="681.1" r="2.9"/><circle cx="1114.01" cy="677.59" r="2.9"/><circle cx="1122.07" cy="675.46" r="2.9"/><circle cx="1130.14" cy="672.82" r="2.9"/><circle cx="1138.21" cy="671.15" r="2.9"/><circle cx="1146.27" cy="669.54" r="2.9"/></g>
<path d="M807.5 876.86V879.55M804.5 876.86h6M804.5 879.55h6M815.57 876.03V878.77M812.57 876.03h6M812.57 878.77h6M823.63 875.16V878.03M820.63 875.16h6M820.63 878.03h6M831.7 873.43V876.53M828.7 873.43h6M828.7 876.53h6M839.76 871.93V875.34M836.76 871.93h6M836.76 875.34h6M847.83 870.13V873.91M844.83 870.13h6M844.83 873.91h6M855.9 868.3V872.52M852.9 868.3h6M852.9 872.52h6M863.96 865.9V870.61M860.96 865.9h6M860.96 870.61h6M872.03 864.02V869.27M869.03 864.02h6M869.03 869.27h6M880.09 861.58V867.41M877.09 861.58h6M877.09 867.41h6M888.16 857.77V864.23M885.16 857.77h6M885.16 864.23h6M896.23 853.42V860.78M893.23 853.42h6M893.23 860.78h6M904.29 849.93V858.63M901.29 849.93h6M901.29 858.63h6M912.36 845.37V855.65M909.36 845.37h6M909.36 855.65h6M920.42 839.71V851.63M917.42 839.71h6M917.42 851.63h6M928.49 833.57V847.02M925.49 833.57h6M925.49 847.02h6M936.56 827.71V842.66M933.56 827.71h6M933.56 842.66h6M944.62 821.27V837.81M941.62 821.27h6M941.62 837.81h6M952.69 814.58V832.67M949.69 814.58h6M949.69 832.67h6M960.75 807.18V826.62M957.75 807.18h6M957.75 826.62h6M968.82 799.69V820.13M965.82 799.69h6M965.82 820.13h6M976.89 791.93V813.1M973.89 791.93h6M973.89 813.1h6M984.95 785.02V806.83M981.95 785.02h6M981.95 806.83h6M993.02 777.49V799.84M990.02 777.49h6M990.02 799.84h6M1001.08 769.47V792.26M998.08 769.47h6M998.08 792.26h6M1009.15 762.45V785.57M1006.15 762.45h6M1006.15 785.57h6M1017.22 755.73V779.12M1014.22 755.73h6M1014.22 779.12h6M1025.28 748.6V772.26M1022.28 748.6h6M1022.28 772.26h6M1033.35 741.22V765.12M1030.35 741.22h6M1030.35 765.12h6M1041.41 735.72V759.86M1038.41 735.72h6M1038.41 759.86h6M1049.48 727.81V752.17M1046.48 727.81h6M1046.48 752.17h6M1057.55 721.12V745.69M1054.55 721.12h6M1054.55 745.69h6M1065.61 713.89V738.67M1062.61 713.89h6M1062.61 738.67h6M1073.68 707.61V732.57M1070.68 707.61h6M1070.68 732.57h6M1081.74 700.27V725.4M1078.74 700.27h6M1078.74 725.4h6M1089.81 694.55V719.83M1086.81 694.55h6M1086.81 719.83h6M1097.88 690.18V715.59M1094.88 690.18h6M1094.88 715.59h6M1105.94 684.47V710.01M1102.94 684.47h6M1102.94 710.01h6M1114.01 680.12V705.75M1111.01 680.12h6M1111.01 705.75h6M1122.07 676.85V702.56M1119.07 676.85h6M1119.07 702.56h6M1130.14 673.6V699.37M1127.14 673.6h6M1127.14 699.37h6M1138.21 671.43V697.23M1135.21 671.43h6M1135.21 697.23h6M1146.27 669.54V695.36M1143.27 669.54h6M1143.27 695.36h6" stroke="#000000" stroke-width="1.3" fill="none"/>
<g fill="none" stroke="#000000" stroke-width="1.7"><circle cx="807.5" cy="878.21" r="2.9"/><circle cx="815.57" cy="877.4" r="2.9"/><circle cx="823.63" cy="876.59" r="2.9"/><circle cx="831.7" cy="874.98" r="2.9"/><circle cx="839.76" cy="873.64" r="2.9"/><circle cx="847.83" cy="872.02" r="2.9"/><circle cx="855.9" cy="870.41" r="2.9"/><circle cx="863.96" cy="868.26" r="2.9"/><circle cx="872.03" cy="866.65" r="2.9"/><circle cx="880.09" cy="864.49" r="2.9"/><circle cx="888.16" cy="861" r="2.9"/><circle cx="896.23" cy="857.1" r="2.9"/><circle cx="904.29" cy="854.28" r="2.9"/><circle cx="912.36" cy="850.51" r="2.9"/><circle cx="920.42" cy="845.67" r="2.9"/><circle cx="928.49" cy="840.29" r="2.9"/><circle cx="936.56" cy="835.18" r="2.9"/><circle cx="944.62" cy="829.54" r="2.9"/><circle cx="952.69" cy="823.62" r="2.9"/><circle cx="960.75" cy="816.9" r="2.9"/><circle cx="968.82" cy="809.91" r="2.9"/><circle cx="976.89" cy="802.51" r="2.9"/><circle cx="984.95" cy="795.92" r="2.9"/><circle cx="993.02" cy="788.66" r="2.9"/><circle cx="1001.08" cy="780.87" r="2.9"/><circle cx="1009.15" cy="774.01" r="2.9"/><circle cx="1017.22" cy="767.42" r="2.9"/><circle cx="1025.28" cy="760.43" r="2.9"/><circle cx="1033.35" cy="753.17" r="2.9"/><circle cx="1041.41" cy="747.79" r="2.9"/><circle cx="1049.48" cy="739.99" r="2.9"/><circle cx="1057.55" cy="733.41" r="2.9"/><circle cx="1065.61" cy="726.28" r="2.9"/><circle cx="1073.68" cy="720.09" r="2.9"/><circle cx="1081.74" cy="712.83" r="2.9"/><circle cx="1089.81" cy="707.19" r="2.9"/><circle cx="1097.88" cy="702.89" r="2.9"/><circle cx="1105.94" cy="697.24" r="2.9"/><circle cx="1114.01" cy="692.94" r="2.9"/><circle cx="1122.07" cy="689.71" r="2.9"/><circle cx="1130.14" cy="686.48" r="2.9"/><circle cx="1138.21" cy="684.33" r="2.9"/><circle cx="1146.27" cy="682.45" r="2.9"/></g>
<text y="979.8" font-size="10.5" font-weight="700" fill="#0000ff" style="stroke:none"><tspan x="339.4">0</tspan><tspan x="346.0">0</tspan><tspan x="353.4">7</tspan><tspan x="359.4">/</tspan></text>
</svg>
</body></html>
